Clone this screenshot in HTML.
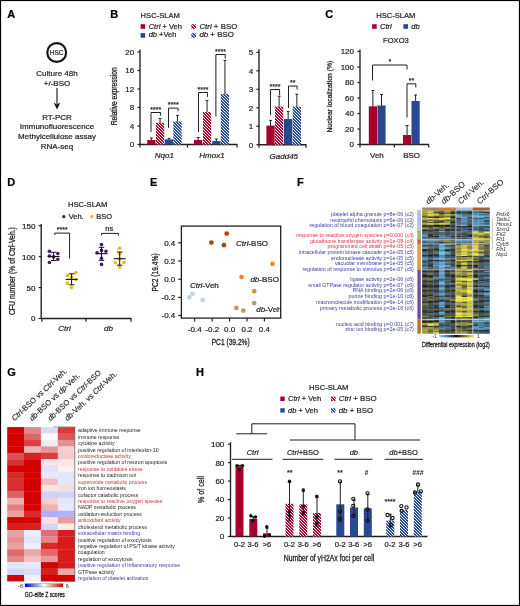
<!DOCTYPE html>
<html><head><meta charset="utf-8"><style>
html,body{margin:0;padding:0;background:#fff;}
svg{display:block; will-change:transform;}
text{font-family:"Liberation Sans", sans-serif;}
</style></head><body>
<svg width="520" height="606" viewBox="0 0 520 606">
<rect x="0" y="0" width="520" height="606" fill="#fff"/>
<defs>
<filter id="blurF" x="-5%" y="-5%" width="110%" height="110%"><feGaussianBlur stdDeviation="0.35"/></filter>
<pattern id="hr" patternUnits="userSpaceOnUse" x="0" y="0" width="3" height="3"><rect x="0" y="0" width="1" height="1" fill="#a8002c"/><rect x="1" y="0" width="1" height="1" fill="#b01a44"/><rect x="2" y="0" width="1" height="1" fill="#f8e8ec"/><rect x="0" y="1" width="1" height="1" fill="#f8e8ec"/><rect x="1" y="1" width="1" height="1" fill="#a8002c"/><rect x="2" y="1" width="1" height="1" fill="#b01a44"/><rect x="0" y="2" width="1" height="1" fill="#b01a44"/><rect x="1" y="2" width="1" height="1" fill="#f8e8ec"/><rect x="2" y="2" width="1" height="1" fill="#a8002c"/></pattern><pattern id="hb" patternUnits="userSpaceOnUse" x="0" y="0" width="3" height="3"><rect x="0" y="0" width="1" height="1" fill="#284890"/><rect x="1" y="0" width="1" height="1" fill="#34529a"/><rect x="2" y="0" width="1" height="1" fill="#e8ecf6"/><rect x="0" y="1" width="1" height="1" fill="#e8ecf6"/><rect x="1" y="1" width="1" height="1" fill="#284890"/><rect x="2" y="1" width="1" height="1" fill="#34529a"/><rect x="0" y="2" width="1" height="1" fill="#34529a"/><rect x="1" y="2" width="1" height="1" fill="#e8ecf6"/><rect x="2" y="2" width="1" height="1" fill="#284890"/></pattern><pattern id="hrl" patternUnits="userSpaceOnUse" x="0" y="0" width="3" height="3"><rect x="0" y="0" width="1" height="1" fill="#a8002c"/><rect x="1" y="0" width="1" height="1" fill="#b01a44"/><rect x="2" y="0" width="1" height="1" fill="#f8e8ec"/><rect x="0" y="1" width="1" height="1" fill="#f8e8ec"/><rect x="1" y="1" width="1" height="1" fill="#a8002c"/><rect x="2" y="1" width="1" height="1" fill="#b01a44"/><rect x="0" y="2" width="1" height="1" fill="#b01a44"/><rect x="1" y="2" width="1" height="1" fill="#f8e8ec"/><rect x="2" y="2" width="1" height="1" fill="#a8002c"/></pattern><pattern id="hbl" patternUnits="userSpaceOnUse" x="0" y="0" width="3" height="3"><rect x="0" y="0" width="1" height="1" fill="#284890"/><rect x="1" y="0" width="1" height="1" fill="#34529a"/><rect x="2" y="0" width="1" height="1" fill="#e8ecf6"/><rect x="0" y="1" width="1" height="1" fill="#e8ecf6"/><rect x="1" y="1" width="1" height="1" fill="#284890"/><rect x="2" y="1" width="1" height="1" fill="#34529a"/><rect x="0" y="2" width="1" height="1" fill="#34529a"/><rect x="1" y="2" width="1" height="1" fill="#e8ecf6"/><rect x="2" y="2" width="1" height="1" fill="#284890"/></pattern>
</defs>
<text x="7.3" y="18" font-size="11" text-anchor="start" fill="#000" stroke="#000" stroke-width="0.22" font-weight="bold" font-style="normal" >A</text>
<text x="110.3" y="18" font-size="11" text-anchor="start" fill="#000" stroke="#000" stroke-width="0.22" font-weight="bold" font-style="normal" >B</text>
<text x="325.3" y="18" font-size="11" text-anchor="start" fill="#000" stroke="#000" stroke-width="0.22" font-weight="bold" font-style="normal" >C</text>
<text x="7.3" y="186.3" font-size="11" text-anchor="start" fill="#000" stroke="#000" stroke-width="0.22" font-weight="bold" font-style="normal" >D</text>
<text x="150" y="186.3" font-size="11" text-anchor="start" fill="#000" stroke="#000" stroke-width="0.22" font-weight="bold" font-style="normal" >E</text>
<text x="297" y="186.3" font-size="11" text-anchor="start" fill="#000" stroke="#000" stroke-width="0.22" font-weight="bold" font-style="normal" >F</text>
<text x="7.3" y="375.8" font-size="11" text-anchor="start" fill="#000" stroke="#000" stroke-width="0.22" font-weight="bold" font-style="normal" >G</text>
<text x="196" y="375.5" font-size="11" text-anchor="start" fill="#000" stroke="#000" stroke-width="0.22" font-weight="bold" font-style="normal" >H</text>
<circle cx="56.7" cy="52.5" r="9.4" fill="none" stroke="#111" stroke-width="2.1"/>
<text x="56.6" y="55.0" font-size="6.6" text-anchor="middle" fill="#231f20" stroke="#231f20" stroke-width="0.2" font-weight="normal" font-style="normal" >HSC</text>
<text x="57" y="76.2" font-size="8" text-anchor="middle" fill="#231f20" stroke="#231f20" stroke-width="0.22" font-weight="normal" font-style="normal" >Culture 48h</text>
<text x="57" y="85.6" font-size="8" text-anchor="middle" fill="#231f20" stroke="#231f20" stroke-width="0.22" font-weight="normal" font-style="normal" >+/-BSO</text>
<line x1="57" y1="88" x2="57" y2="104" stroke="#111" stroke-width="1.1"/>
<path d="M53.6,102.5 L57,109.5 L60.4,102.5 L57,104.5 Z" fill="#111"/>
<text x="57" y="119.6" font-size="8" text-anchor="middle" fill="#231f20" stroke="#231f20" stroke-width="0.22" font-weight="normal" font-style="normal" >RT-PCR</text>
<text x="57" y="129.45" font-size="8" text-anchor="middle" fill="#231f20" stroke="#231f20" stroke-width="0.22" font-weight="normal" font-style="normal" >Immunofluorescence</text>
<text x="57" y="139.29999999999998" font-size="8" text-anchor="middle" fill="#231f20" stroke="#231f20" stroke-width="0.22" font-weight="normal" font-style="normal" >Methylcellulose assay</text>
<text x="57" y="149.14999999999998" font-size="8" text-anchor="middle" fill="#231f20" stroke="#231f20" stroke-width="0.22" font-weight="normal" font-style="normal" >RNA-seq</text>
<text x="140.6" y="17.9" font-size="7.6" text-anchor="start" fill="#231f20" stroke="#231f20" stroke-width="0.22" font-weight="normal" font-style="normal" >HSC-SLAM</text>
<rect x="140.6" y="24.2" width="4.6" height="4.6" fill="#a8002c"/>
<text x="148.7" y="28.9" font-size="7.5" text-anchor="start" fill="#231f20" stroke="#231f20" stroke-width="0.22" font-weight="normal" font-style="normal" ><tspan font-style="italic">Ctrl</tspan> + Veh</text>
<rect x="140.6" y="33.1" width="4.6" height="4.6" fill="#284890"/>
<text x="148.7" y="37.3" font-size="7.5" text-anchor="start" fill="#231f20" stroke="#231f20" stroke-width="0.22" font-weight="normal" font-style="normal" ><tspan font-style="italic">db</tspan> +Veh</text>
<rect x="191.3" y="24.2" width="4.8" height="4.7" fill="url(#hrl)"/>
<text x="199.4" y="28.9" font-size="7.9" text-anchor="start" fill="#231f20" stroke="#231f20" stroke-width="0.22" font-weight="normal" font-style="normal" ><tspan font-style="italic">Ctrl</tspan> + BSO</text>
<rect x="191.3" y="33.1" width="4.8" height="4.7" fill="url(#hbl)"/>
<text x="199.4" y="37.3" font-size="7.9" text-anchor="start" fill="#231f20" stroke="#231f20" stroke-width="0.22" font-weight="normal" font-style="normal" ><tspan font-style="italic">db</tspan> + BSO</text>
<line x1="140" y1="49.5" x2="140" y2="145.0" stroke="#231f20" stroke-width="1.35"/>
<line x1="137.4" y1="144.5" x2="140" y2="144.5" stroke="#231f20" stroke-width="1.2"/>
<text x="134.2" y="147.4" font-size="8" text-anchor="end" fill="#231f20" stroke="#231f20" stroke-width="0.22" font-weight="normal" font-style="normal" >0</text>
<line x1="137.4" y1="126.0" x2="140" y2="126.0" stroke="#231f20" stroke-width="1.2"/>
<text x="134.2" y="128.9" font-size="8" text-anchor="end" fill="#231f20" stroke="#231f20" stroke-width="0.22" font-weight="normal" font-style="normal" >4</text>
<line x1="137.4" y1="107.5" x2="140" y2="107.5" stroke="#231f20" stroke-width="1.2"/>
<text x="134.2" y="110.4" font-size="8" text-anchor="end" fill="#231f20" stroke="#231f20" stroke-width="0.22" font-weight="normal" font-style="normal" >8</text>
<line x1="137.4" y1="89.0" x2="140" y2="89.0" stroke="#231f20" stroke-width="1.2"/>
<text x="134.2" y="91.9" font-size="8" text-anchor="end" fill="#231f20" stroke="#231f20" stroke-width="0.22" font-weight="normal" font-style="normal" >12</text>
<line x1="137.4" y1="70.5" x2="140" y2="70.5" stroke="#231f20" stroke-width="1.2"/>
<text x="134.2" y="73.4" font-size="8" text-anchor="end" fill="#231f20" stroke="#231f20" stroke-width="0.22" font-weight="normal" font-style="normal" >16</text>
<line x1="137.4" y1="52.0" x2="140" y2="52.0" stroke="#231f20" stroke-width="1.2"/>
<text x="134.2" y="54.9" font-size="8" text-anchor="end" fill="#231f20" stroke="#231f20" stroke-width="0.22" font-weight="normal" font-style="normal" >20</text>
<line x1="140" y1="144.5" x2="237.5" y2="144.5" stroke="#231f20" stroke-width="1.35"/>
<line x1="140" y1="144.5" x2="140" y2="147.6" stroke="#231f20" stroke-width="1.2"/>
<line x1="187.5" y1="144.5" x2="187.5" y2="147.6" stroke="#231f20" stroke-width="1.2"/>
<line x1="237" y1="144.5" x2="237" y2="147.6" stroke="#231f20" stroke-width="1.2"/>
<line x1="151.35" y1="141.0" x2="151.35" y2="138.0" stroke="#231f20" stroke-width="1"/>
<line x1="149.95" y1="138.0" x2="152.75" y2="138.0" stroke="#231f20" stroke-width="1"/>
<rect x="147.2" y="140.0" width="8.3" height="4.5" fill="#a8002c"/>
<line x1="160.05" y1="123.8" x2="160.05" y2="118.5" stroke="#231f20" stroke-width="1"/>
<line x1="158.65" y1="118.5" x2="161.45000000000002" y2="118.5" stroke="#231f20" stroke-width="1"/>
<rect x="155.9" y="122.8" width="8.3" height="21.700000000000003" fill="url(#hr)"/>
<line x1="168.95000000000002" y1="140.4" x2="168.95000000000002" y2="138.3" stroke="#231f20" stroke-width="1"/>
<line x1="167.55" y1="138.3" x2="170.35000000000002" y2="138.3" stroke="#231f20" stroke-width="1"/>
<rect x="164.8" y="139.4" width="8.3" height="5.099999999999994" fill="#284890"/>
<line x1="177.45000000000002" y1="122.5" x2="177.45000000000002" y2="115.4" stroke="#231f20" stroke-width="1"/>
<line x1="176.05" y1="115.4" x2="178.85000000000002" y2="115.4" stroke="#231f20" stroke-width="1"/>
<rect x="173.3" y="121.5" width="8.3" height="23.0" fill="url(#hb)"/>
<line x1="198.15" y1="141.0" x2="198.15" y2="137.5" stroke="#231f20" stroke-width="1"/>
<line x1="196.75" y1="137.5" x2="199.55" y2="137.5" stroke="#231f20" stroke-width="1"/>
<rect x="194.0" y="140.0" width="8.3" height="4.5" fill="#a8002c"/>
<line x1="207.05" y1="113.0" x2="207.05" y2="100.4" stroke="#231f20" stroke-width="1"/>
<line x1="205.65" y1="100.4" x2="208.45000000000002" y2="100.4" stroke="#231f20" stroke-width="1"/>
<rect x="202.9" y="112.0" width="8.3" height="32.5" fill="url(#hr)"/>
<line x1="216.35" y1="142.0" x2="216.35" y2="139.0" stroke="#231f20" stroke-width="1"/>
<line x1="214.95" y1="139.0" x2="217.75" y2="139.0" stroke="#231f20" stroke-width="1"/>
<rect x="212.2" y="141.0" width="8.3" height="3.5" fill="#284890"/>
<line x1="224.95000000000002" y1="95.0" x2="224.95000000000002" y2="60.4" stroke="#231f20" stroke-width="1"/>
<line x1="223.55" y1="60.4" x2="226.35000000000002" y2="60.4" stroke="#231f20" stroke-width="1"/>
<rect x="220.8" y="94.0" width="8.3" height="50.5" fill="url(#hb)"/>
<polyline points="151,131.9 151,112.5 160.6,112.5 160.6,115.6" fill="none" stroke="#231f20" stroke-width="1"/>
<text x="155.8" y="111.6" font-size="7" text-anchor="middle" fill="#231f20" stroke="#231f20" stroke-width="0.22" font-weight="normal" font-style="normal" >****</text>
<polyline points="168.5,127.8 168.5,108.1 178.1,108.1 178.1,111.3" fill="none" stroke="#231f20" stroke-width="1"/>
<text x="173.3" y="107.3" font-size="7" text-anchor="middle" fill="#231f20" stroke="#231f20" stroke-width="0.22" font-weight="normal" font-style="normal" >****</text>
<polyline points="198.5,132.0 198.5,92.5 207.4,92.5 207.4,96.9" fill="none" stroke="#231f20" stroke-width="1"/>
<text x="202.95" y="91.8" font-size="7" text-anchor="middle" fill="#231f20" stroke="#231f20" stroke-width="0.22" font-weight="normal" font-style="normal" >****</text>
<polyline points="215.9,116.3 215.9,54.5 225.2,54.5 225.2,58.5" fill="none" stroke="#231f20" stroke-width="1"/>
<text x="220.55" y="53.9" font-size="7" text-anchor="middle" fill="#231f20" stroke="#231f20" stroke-width="0.22" font-weight="normal" font-style="normal" >****</text>
<text x="164.4" y="158.3" font-size="8" text-anchor="middle" fill="#231f20" stroke="#231f20" stroke-width="0.22" font-weight="normal" font-style="italic" >Nqo1</text>
<text x="212.0" y="158.3" font-size="8" text-anchor="middle" fill="#231f20" stroke="#231f20" stroke-width="0.22" font-weight="normal" font-style="italic" >Hmox1</text>
<text x="0" y="0" font-size="8.2" fill="#231f20" stroke="#231f20" stroke-width="0.3" text-anchor="middle" transform="translate(116.9,96.3) rotate(-90)" textLength="58" lengthAdjust="spacingAndGlyphs">Relative expression</text>
<line x1="259" y1="49.3" x2="259" y2="145.2" stroke="#231f20" stroke-width="1.35"/>
<line x1="256.4" y1="144.7" x2="259" y2="144.7" stroke="#231f20" stroke-width="1.2"/>
<text x="253.2" y="147.6" font-size="8" text-anchor="end" fill="#231f20" stroke="#231f20" stroke-width="0.22" font-weight="normal" font-style="normal" >0</text>
<line x1="256.4" y1="126.24" x2="259" y2="126.24" stroke="#231f20" stroke-width="1.2"/>
<text x="253.2" y="129.14" font-size="8" text-anchor="end" fill="#231f20" stroke="#231f20" stroke-width="0.22" font-weight="normal" font-style="normal" >1</text>
<line x1="256.4" y1="107.78" x2="259" y2="107.78" stroke="#231f20" stroke-width="1.2"/>
<text x="253.2" y="110.68" font-size="8" text-anchor="end" fill="#231f20" stroke="#231f20" stroke-width="0.22" font-weight="normal" font-style="normal" >2</text>
<line x1="256.4" y1="89.32" x2="259" y2="89.32" stroke="#231f20" stroke-width="1.2"/>
<text x="253.2" y="92.22" font-size="8" text-anchor="end" fill="#231f20" stroke="#231f20" stroke-width="0.22" font-weight="normal" font-style="normal" >3</text>
<line x1="256.4" y1="70.86" x2="259" y2="70.86" stroke="#231f20" stroke-width="1.2"/>
<text x="253.2" y="73.76" font-size="8" text-anchor="end" fill="#231f20" stroke="#231f20" stroke-width="0.22" font-weight="normal" font-style="normal" >4</text>
<line x1="256.4" y1="52.400000000000006" x2="259" y2="52.400000000000006" stroke="#231f20" stroke-width="1.2"/>
<text x="253.2" y="55.300000000000004" font-size="8" text-anchor="end" fill="#231f20" stroke="#231f20" stroke-width="0.22" font-weight="normal" font-style="normal" >5</text>
<line x1="259" y1="144.7" x2="306.5" y2="144.7" stroke="#231f20" stroke-width="1.35"/>
<line x1="259" y1="144.7" x2="259" y2="147.8" stroke="#231f20" stroke-width="1.2"/>
<line x1="306" y1="144.7" x2="306" y2="147.8" stroke="#231f20" stroke-width="1.2"/>
<line x1="270.54999999999995" y1="126.6" x2="270.54999999999995" y2="120.4" stroke="#231f20" stroke-width="1"/>
<line x1="269.15" y1="120.4" x2="271.94999999999993" y2="120.4" stroke="#231f20" stroke-width="1"/>
<rect x="266.4" y="125.6" width="8.3" height="19.099999999999994" fill="#a8002c"/>
<line x1="279.15" y1="107.6" x2="279.15" y2="96.3" stroke="#231f20" stroke-width="1"/>
<line x1="277.75" y1="96.3" x2="280.54999999999995" y2="96.3" stroke="#231f20" stroke-width="1"/>
<rect x="275.0" y="106.6" width="8.3" height="38.099999999999994" fill="url(#hr)"/>
<line x1="288.15" y1="120.0" x2="288.15" y2="111.5" stroke="#231f20" stroke-width="1"/>
<line x1="286.75" y1="111.5" x2="289.54999999999995" y2="111.5" stroke="#231f20" stroke-width="1"/>
<rect x="284.0" y="119.0" width="8.3" height="25.69999999999999" fill="#284890"/>
<line x1="296.84999999999997" y1="107.6" x2="296.84999999999997" y2="94.2" stroke="#231f20" stroke-width="1"/>
<line x1="295.45" y1="94.2" x2="298.24999999999994" y2="94.2" stroke="#231f20" stroke-width="1"/>
<rect x="292.7" y="106.6" width="8.3" height="38.099999999999994" fill="url(#hb)"/>
<polyline points="270.5,115.3 270.5,89.5 279.6,89.5 279.6,95.3" fill="none" stroke="#231f20" stroke-width="1"/>
<text x="275.05" y="88.6" font-size="7" text-anchor="middle" fill="#231f20" stroke="#231f20" stroke-width="0.22" font-weight="normal" font-style="normal" >****</text>
<polyline points="288.5,108.0 288.5,86.0 297.1,86.0 297.1,89.5" fill="none" stroke="#231f20" stroke-width="1"/>
<text x="292.8" y="85.4" font-size="7" text-anchor="middle" fill="#231f20" stroke="#231f20" stroke-width="0.22" font-weight="normal" font-style="normal" >**</text>
<text x="283.8" y="158.5" font-size="8" text-anchor="middle" fill="#231f20" stroke="#231f20" stroke-width="0.22" font-weight="normal" font-style="italic" >Gadd45</text>
<text x="376.2" y="17.9" font-size="7.6" text-anchor="start" fill="#231f20" stroke="#231f20" stroke-width="0.22" font-weight="normal" font-style="normal" >HSC-SLAM</text>
<rect x="372.1" y="24.2" width="4.6" height="4.6" fill="#a8002c"/>
<text x="380" y="28.9" font-size="7.6" text-anchor="start" fill="#231f20" stroke="#231f20" stroke-width="0.22" font-weight="normal" font-style="italic" >Ctrl</text>
<rect x="403.4" y="24.2" width="4.6" height="4.6" fill="#284890"/>
<text x="411.2" y="28.9" font-size="7.6" text-anchor="start" fill="#231f20" stroke="#231f20" stroke-width="0.22" font-weight="normal" font-style="italic" >db</text>
<text x="395.9" y="43.1" font-size="7.6" text-anchor="middle" fill="#231f20" stroke="#231f20" stroke-width="0.22" font-weight="normal" font-style="normal" >FOXO3</text>
<line x1="360" y1="49.5" x2="360" y2="145.0" stroke="#231f20" stroke-width="1.35"/>
<line x1="357.4" y1="144.5" x2="360" y2="144.5" stroke="#231f20" stroke-width="1.2"/>
<text x="354" y="147.4" font-size="8" text-anchor="end" fill="#231f20" stroke="#231f20" stroke-width="0.22" font-weight="normal" font-style="normal" >0</text>
<line x1="357.4" y1="129.0" x2="360" y2="129.0" stroke="#231f20" stroke-width="1.2"/>
<text x="354" y="131.9" font-size="8" text-anchor="end" fill="#231f20" stroke="#231f20" stroke-width="0.22" font-weight="normal" font-style="normal" >20</text>
<line x1="357.4" y1="113.5" x2="360" y2="113.5" stroke="#231f20" stroke-width="1.2"/>
<text x="354" y="116.4" font-size="8" text-anchor="end" fill="#231f20" stroke="#231f20" stroke-width="0.22" font-weight="normal" font-style="normal" >40</text>
<line x1="357.4" y1="98.0" x2="360" y2="98.0" stroke="#231f20" stroke-width="1.2"/>
<text x="354" y="100.9" font-size="8" text-anchor="end" fill="#231f20" stroke="#231f20" stroke-width="0.22" font-weight="normal" font-style="normal" >60</text>
<line x1="357.4" y1="82.5" x2="360" y2="82.5" stroke="#231f20" stroke-width="1.2"/>
<text x="354" y="85.4" font-size="8" text-anchor="end" fill="#231f20" stroke="#231f20" stroke-width="0.22" font-weight="normal" font-style="normal" >80</text>
<line x1="357.4" y1="67.0" x2="360" y2="67.0" stroke="#231f20" stroke-width="1.2"/>
<text x="354" y="69.9" font-size="8" text-anchor="end" fill="#231f20" stroke="#231f20" stroke-width="0.22" font-weight="normal" font-style="normal" >100</text>
<line x1="357.4" y1="51.5" x2="360" y2="51.5" stroke="#231f20" stroke-width="1.2"/>
<text x="354" y="54.4" font-size="8" text-anchor="end" fill="#231f20" stroke="#231f20" stroke-width="0.22" font-weight="normal" font-style="normal" >120</text>
<line x1="360" y1="144.5" x2="429" y2="144.5" stroke="#231f20" stroke-width="1.35"/>
<line x1="360" y1="144.5" x2="360" y2="147.6" stroke="#231f20" stroke-width="1.2"/>
<line x1="394.3" y1="144.5" x2="394.3" y2="147.6" stroke="#231f20" stroke-width="1.2"/>
<line x1="428.7" y1="144.5" x2="428.7" y2="147.6" stroke="#231f20" stroke-width="1.2"/>
<line x1="372.90000000000003" y1="107.3" x2="372.90000000000003" y2="90.5" stroke="#231f20" stroke-width="1"/>
<line x1="371.50000000000006" y1="90.5" x2="374.3" y2="90.5" stroke="#231f20" stroke-width="1"/>
<rect x="368.8" y="106.3" width="8.2" height="38.2" fill="#a8002c"/>
<line x1="381.5" y1="106.5" x2="381.5" y2="94.5" stroke="#231f20" stroke-width="1"/>
<line x1="380.1" y1="94.5" x2="382.9" y2="94.5" stroke="#231f20" stroke-width="1"/>
<rect x="377.4" y="105.5" width="8.2" height="39.0" fill="#284890"/>
<line x1="407.1" y1="136.0" x2="407.1" y2="125.5" stroke="#231f20" stroke-width="1"/>
<line x1="405.70000000000005" y1="125.5" x2="408.5" y2="125.5" stroke="#231f20" stroke-width="1"/>
<rect x="403.0" y="135.0" width="8.2" height="9.5" fill="#a8002c"/>
<line x1="415.6" y1="102.0" x2="415.6" y2="95.0" stroke="#231f20" stroke-width="1"/>
<line x1="414.20000000000005" y1="95.0" x2="417.0" y2="95.0" stroke="#231f20" stroke-width="1"/>
<rect x="411.5" y="101.0" width="8.2" height="43.5" fill="#284890"/>
<polyline points="372.5,80.5 372.5,65.0 407.0,65.0 407.0,69.5" fill="none" stroke="#231f20" stroke-width="1"/>
<text x="389.75" y="64.4" font-size="7" text-anchor="middle" fill="#231f20" stroke="#231f20" stroke-width="0.22" font-weight="normal" font-style="normal" >*</text>
<polyline points="407.0,117.5 407.0,83.8 415.8,83.8 415.8,87.5" fill="none" stroke="#231f20" stroke-width="1"/>
<text x="411.4" y="83.2" font-size="7" text-anchor="middle" fill="#231f20" stroke="#231f20" stroke-width="0.22" font-weight="normal" font-style="normal" >**</text>
<text x="376.9" y="157.6" font-size="8" text-anchor="middle" fill="#231f20" stroke="#231f20" stroke-width="0.22" font-weight="normal" font-style="normal" >Veh</text>
<text x="411.6" y="157.6" font-size="8" text-anchor="middle" fill="#231f20" stroke="#231f20" stroke-width="0.22" font-weight="normal" font-style="normal" >BSO</text>
<text x="0" y="0" font-size="7.9" fill="#231f20" stroke="#231f20" stroke-width="0.3" text-anchor="middle" transform="translate(332.3,96.6) rotate(-90)" textLength="72" lengthAdjust="spacingAndGlyphs">Nuclear localization (%)</text>
<text x="68" y="207.2" font-size="7.6" text-anchor="start" fill="#231f20" stroke="#231f20" stroke-width="0.22" font-weight="normal" font-style="normal" >HSC-SLAM</text>
<circle cx="63.8" cy="216.6" r="1.7" fill="#4a1a6a" stroke="none" stroke-width="0"/>
<text x="68.7" y="218.9" font-size="7.5" text-anchor="start" fill="#231f20" stroke="#231f20" stroke-width="0.22" font-weight="normal" font-style="normal" >Veh.</text>
<circle cx="91.8" cy="216.6" r="1.7" fill="#f0b800" stroke="none" stroke-width="0"/>
<text x="96.2" y="218.9" font-size="7.5" text-anchor="start" fill="#231f20" stroke="#231f20" stroke-width="0.22" font-weight="normal" font-style="normal" >BSO</text>
<line x1="41.2" y1="224" x2="41.2" y2="319.0" stroke="#231f20" stroke-width="1.35"/>
<line x1="38.6" y1="318.5" x2="41.2" y2="318.5" stroke="#231f20" stroke-width="1.2"/>
<text x="35.4" y="321.4" font-size="8" text-anchor="end" fill="#231f20" stroke="#231f20" stroke-width="0.22" font-weight="normal" font-style="normal" >0</text>
<line x1="38.6" y1="287.6" x2="41.2" y2="287.6" stroke="#231f20" stroke-width="1.2"/>
<text x="35.4" y="290.5" font-size="8" text-anchor="end" fill="#231f20" stroke="#231f20" stroke-width="0.22" font-weight="normal" font-style="normal" >50</text>
<line x1="38.6" y1="256.7" x2="41.2" y2="256.7" stroke="#231f20" stroke-width="1.2"/>
<text x="35.4" y="259.59999999999997" font-size="8" text-anchor="end" fill="#231f20" stroke="#231f20" stroke-width="0.22" font-weight="normal" font-style="normal" >100</text>
<line x1="38.6" y1="225.8" x2="41.2" y2="225.8" stroke="#231f20" stroke-width="1.2"/>
<text x="35.4" y="228.70000000000002" font-size="8" text-anchor="end" fill="#231f20" stroke="#231f20" stroke-width="0.22" font-weight="normal" font-style="normal" >150</text>
<line x1="41.2" y1="318.5" x2="131.5" y2="318.5" stroke="#231f20" stroke-width="1.35"/>
<line x1="41.8" y1="318.5" x2="41.8" y2="321.8" stroke="#231f20" stroke-width="1.2"/>
<line x1="85.9" y1="318.5" x2="85.9" y2="321.8" stroke="#231f20" stroke-width="1.2"/>
<line x1="131" y1="318.5" x2="131" y2="321.8" stroke="#231f20" stroke-width="1.2"/>
<text x="64.5" y="331.3" font-size="8" text-anchor="middle" fill="#231f20" stroke="#231f20" stroke-width="0.22" font-weight="normal" font-style="italic" >Ctrl</text>
<text x="108.4" y="331.3" font-size="8" text-anchor="middle" fill="#231f20" stroke="#231f20" stroke-width="0.22" font-weight="normal" font-style="italic" >db</text>
<text x="0" y="0" font-size="8.2" fill="#231f20" stroke="#231f20" stroke-width="0.3" text-anchor="middle" transform="translate(15.2,271.1) rotate(-90)" textLength="88" lengthAdjust="spacingAndGlyphs">CFU number (% of Ctrl-Veh.)</text>
<circle cx="49.4" cy="251.3" r="1.8" fill="#4a1a6a" stroke="none" stroke-width="0"/>
<circle cx="57.8" cy="253.5" r="1.8" fill="#4a1a6a" stroke="none" stroke-width="0"/>
<circle cx="49.4" cy="256.0" r="1.8" fill="#4a1a6a" stroke="none" stroke-width="0"/>
<circle cx="53.6" cy="256.9" r="1.8" fill="#4a1a6a" stroke="none" stroke-width="0"/>
<circle cx="57.8" cy="259.4" r="1.8" fill="#4a1a6a" stroke="none" stroke-width="0"/>
<circle cx="49.4" cy="262.5" r="1.8" fill="#4a1a6a" stroke="none" stroke-width="0"/>
<line x1="47.6" y1="256.5" x2="59.6" y2="256.5" stroke="#111" stroke-width="1.1"/>
<line x1="53.6" y1="252.3" x2="53.6" y2="260.6" stroke="#111" stroke-width="1"/>
<line x1="50.85" y1="252.3" x2="56.35" y2="252.3" stroke="#111" stroke-width="1"/>
<line x1="50.85" y1="260.6" x2="56.35" y2="260.6" stroke="#111" stroke-width="1"/>
<circle cx="75.9" cy="272.8" r="1.8" fill="#f0b800" stroke="none" stroke-width="0"/>
<circle cx="67.3" cy="275.6" r="1.8" fill="#f0b800" stroke="none" stroke-width="0"/>
<circle cx="71.6" cy="277.3" r="1.8" fill="#f0b800" stroke="none" stroke-width="0"/>
<circle cx="75.9" cy="279.6" r="1.8" fill="#f0b800" stroke="none" stroke-width="0"/>
<circle cx="67.3" cy="283.1" r="1.8" fill="#f0b800" stroke="none" stroke-width="0"/>
<circle cx="71.6" cy="287.5" r="1.8" fill="#f0b800" stroke="none" stroke-width="0"/>
<line x1="65.6" y1="279.4" x2="77.6" y2="279.4" stroke="#111" stroke-width="1.1"/>
<line x1="71.6" y1="273.8" x2="71.6" y2="284.8" stroke="#111" stroke-width="1"/>
<line x1="68.85" y1="273.8" x2="74.35" y2="273.8" stroke="#111" stroke-width="1"/>
<line x1="68.85" y1="284.8" x2="74.35" y2="284.8" stroke="#111" stroke-width="1"/>
<circle cx="101.5" cy="244.6" r="1.8" fill="#4a1a6a" stroke="none" stroke-width="0"/>
<circle cx="101.5" cy="250.4" r="1.8" fill="#4a1a6a" stroke="none" stroke-width="0"/>
<circle cx="97.1" cy="252.8" r="1.8" fill="#4a1a6a" stroke="none" stroke-width="0"/>
<circle cx="106.0" cy="251.2" r="1.8" fill="#4a1a6a" stroke="none" stroke-width="0"/>
<circle cx="101.5" cy="258.2" r="1.8" fill="#4a1a6a" stroke="none" stroke-width="0"/>
<circle cx="101.5" cy="264.4" r="1.8" fill="#4a1a6a" stroke="none" stroke-width="0"/>
<line x1="95.5" y1="253.7" x2="107.5" y2="253.7" stroke="#111" stroke-width="1.1"/>
<line x1="101.5" y1="247.3" x2="101.5" y2="260.3" stroke="#111" stroke-width="1"/>
<line x1="98.75" y1="247.3" x2="104.25" y2="247.3" stroke="#111" stroke-width="1"/>
<line x1="98.75" y1="260.3" x2="104.25" y2="260.3" stroke="#111" stroke-width="1"/>
<circle cx="119.7" cy="248.3" r="1.8" fill="#f0b800" stroke="none" stroke-width="0"/>
<circle cx="119.7" cy="253.7" r="1.8" fill="#f0b800" stroke="none" stroke-width="0"/>
<circle cx="119.7" cy="258.7" r="1.8" fill="#f0b800" stroke="none" stroke-width="0"/>
<circle cx="115.3" cy="262.7" r="1.8" fill="#f0b800" stroke="none" stroke-width="0"/>
<circle cx="124.0" cy="262.4" r="1.8" fill="#f0b800" stroke="none" stroke-width="0"/>
<circle cx="119.7" cy="267.1" r="1.8" fill="#f0b800" stroke="none" stroke-width="0"/>
<line x1="113.7" y1="258.7" x2="125.7" y2="258.7" stroke="#111" stroke-width="1.1"/>
<line x1="119.7" y1="252.0" x2="119.7" y2="265.2" stroke="#111" stroke-width="1"/>
<line x1="116.95" y1="252.0" x2="122.45" y2="252.0" stroke="#111" stroke-width="1"/>
<line x1="116.95" y1="265.2" x2="122.45" y2="265.2" stroke="#111" stroke-width="1"/>
<polyline points="54.8,235.0 54.8,233.1 69.6,233.1 69.6,258.5" fill="none" stroke="#231f20" stroke-width="1"/>
<text x="62.199999999999996" y="232.4" font-size="7" text-anchor="middle" fill="#231f20" stroke="#231f20" stroke-width="0.22" font-weight="normal" font-style="normal" >****</text>
<polyline points="101.5,235.5 101.5,233.4 118.4,233.4 118.4,235.5" fill="none" stroke="#231f20" stroke-width="1"/>
<text x="109.95" y="0" font-size="7" text-anchor="middle" fill="#231f20" stroke="#231f20" stroke-width="0.22" font-weight="normal" font-style="normal" ></text>
<text x="109.2" y="230.7" font-size="7.5" text-anchor="middle" fill="#231f20" stroke="#231f20" stroke-width="0.22" font-weight="normal" font-style="normal" >ns</text>
<rect x="181.4" y="226.1" width="99.3" height="92.0" fill="none" stroke="#231f20" stroke-width="1.3"/>
<line x1="178.2" y1="242.8" x2="181.4" y2="242.8" stroke="#231f20" stroke-width="1.2"/>
<text x="175.3" y="245.70000000000002" font-size="8" text-anchor="end" fill="#231f20" stroke="#231f20" stroke-width="0.22" font-weight="normal" font-style="normal" >0.4</text>
<line x1="178.2" y1="261.0" x2="181.4" y2="261.0" stroke="#231f20" stroke-width="1.2"/>
<text x="175.3" y="263.9" font-size="8" text-anchor="end" fill="#231f20" stroke="#231f20" stroke-width="0.22" font-weight="normal" font-style="normal" >0.2</text>
<line x1="178.2" y1="279.2" x2="181.4" y2="279.2" stroke="#231f20" stroke-width="1.2"/>
<text x="175.3" y="282.09999999999997" font-size="8" text-anchor="end" fill="#231f20" stroke="#231f20" stroke-width="0.22" font-weight="normal" font-style="normal" >0.0</text>
<line x1="178.2" y1="297.4" x2="181.4" y2="297.4" stroke="#231f20" stroke-width="1.2"/>
<text x="175.3" y="300.29999999999995" font-size="8" text-anchor="end" fill="#231f20" stroke="#231f20" stroke-width="0.22" font-weight="normal" font-style="normal" >-0.2</text>
<line x1="178.2" y1="315.5" x2="181.4" y2="315.5" stroke="#231f20" stroke-width="1.2"/>
<text x="175.3" y="318.4" font-size="8" text-anchor="end" fill="#231f20" stroke="#231f20" stroke-width="0.22" font-weight="normal" font-style="normal" >-0.4</text>
<line x1="194.7" y1="318.1" x2="194.7" y2="321.6" stroke="#231f20" stroke-width="1.2"/>
<text x="194.7" y="331.9" font-size="8" text-anchor="middle" fill="#231f20" stroke="#231f20" stroke-width="0.22" font-weight="normal" font-style="normal" >-0.4</text>
<line x1="212.2" y1="318.1" x2="212.2" y2="321.6" stroke="#231f20" stroke-width="1.2"/>
<text x="212.2" y="331.9" font-size="8" text-anchor="middle" fill="#231f20" stroke="#231f20" stroke-width="0.22" font-weight="normal" font-style="normal" >-0.2</text>
<line x1="229.6" y1="318.1" x2="229.6" y2="321.6" stroke="#231f20" stroke-width="1.2"/>
<text x="229.6" y="331.9" font-size="8" text-anchor="middle" fill="#231f20" stroke="#231f20" stroke-width="0.22" font-weight="normal" font-style="normal" >0.0</text>
<line x1="247.0" y1="318.1" x2="247.0" y2="321.6" stroke="#231f20" stroke-width="1.2"/>
<text x="247.0" y="331.9" font-size="8" text-anchor="middle" fill="#231f20" stroke="#231f20" stroke-width="0.22" font-weight="normal" font-style="normal" >0.2</text>
<line x1="264.4" y1="318.1" x2="264.4" y2="321.6" stroke="#231f20" stroke-width="1.2"/>
<text x="264.4" y="331.9" font-size="8" text-anchor="middle" fill="#231f20" stroke="#231f20" stroke-width="0.22" font-weight="normal" font-style="normal" >0.4</text>
<circle cx="226.7" cy="233.6" r="2.35" fill="#a4480f" stroke="none" stroke-width="0"/>
<circle cx="211.4" cy="242.6" r="2.35" fill="#a4480f" stroke="none" stroke-width="0"/>
<circle cx="223.9" cy="245.2" r="2.35" fill="#a4480f" stroke="none" stroke-width="0"/>
<circle cx="272.5" cy="263.9" r="2.35" fill="#e58a35" stroke="none" stroke-width="0"/>
<circle cx="241.5" cy="277.0" r="2.35" fill="#e58a35" stroke="none" stroke-width="0"/>
<circle cx="254.2" cy="291.2" r="2.35" fill="#e58a35" stroke="none" stroke-width="0"/>
<circle cx="192.5" cy="293.8" r="2.35" fill="#bdd3eb" stroke="none" stroke-width="0"/>
<circle cx="189.3" cy="297.3" r="2.35" fill="#bdd3eb" stroke="none" stroke-width="0"/>
<circle cx="202.6" cy="300.0" r="2.35" fill="#bdd3eb" stroke="none" stroke-width="0"/>
<circle cx="236.4" cy="307.9" r="2.35" fill="#b8996a" stroke="none" stroke-width="0"/>
<circle cx="243.3" cy="310.6" r="2.35" fill="#b8996a" stroke="none" stroke-width="0"/>
<circle cx="254.2" cy="303.1" r="2.35" fill="#b8996a" stroke="none" stroke-width="0"/>
<text x="236" y="246.2" font-size="8" text-anchor="start" fill="#231f20" stroke="#231f20" stroke-width="0.22" font-weight="normal" font-style="normal" ><tspan font-style="italic">Ctrl</tspan>-BSO</text>
<text x="250.4" y="282.3" font-size="8" text-anchor="start" fill="#231f20" stroke="#231f20" stroke-width="0.22" font-weight="normal" font-style="normal" ><tspan font-style="italic">db</tspan>-BSO</text>
<text x="189.9" y="288.3" font-size="8" text-anchor="start" fill="#231f20" stroke="#231f20" stroke-width="0.22" font-weight="normal" font-style="normal" ><tspan font-style="italic">Ctrl</tspan>-Veh</text>
<text x="256.2" y="311.9" font-size="8" text-anchor="start" fill="#231f20" stroke="#231f20" stroke-width="0.22" font-weight="normal" font-style="normal" ><tspan font-style="italic">db</tspan>-Veh</text>
<text x="0" y="0" font-size="8.8" fill="#231f20" stroke="#231f20" stroke-width="0.3" text-anchor="middle" transform="translate(157.8,272.4) rotate(-90)" textLength="38" lengthAdjust="spacingAndGlyphs">PC2 (19.4%)</text>
<text x="230.7" y="344.7" font-size="8.8" fill="#231f20" stroke="#231f20" stroke-width="0.3" text-anchor="middle"  textLength="38" lengthAdjust="spacingAndGlyphs">PC1 (39.2%)</text>
<text x="413.9" y="215.8" font-size="5.33" text-anchor="end" fill="#4040a8" stroke="#4040a8" stroke-width="0" font-weight="normal" font-style="normal" >platelet alpha granule p=8e-06 (c2)</text>
<text x="413.9" y="221.5" font-size="5.33" text-anchor="end" fill="#4040a8" stroke="#4040a8" stroke-width="0" font-weight="normal" font-style="normal" >neutrophil chemotaxis p=5e-06 (c2)</text>
<text x="413.9" y="227.1" font-size="5.33" text-anchor="end" fill="#4040a8" stroke="#4040a8" stroke-width="0" font-weight="normal" font-style="normal" >regulation of blood coagulation p=3e-07 (c2)</text>
<text x="413.9" y="237.0" font-size="5.33" text-anchor="end" fill="#d83a46" stroke="#d83a46" stroke-width="0" font-weight="normal" font-style="normal" >response to reactive oxygen species p=0.000 (c3)</text>
<text x="413.9" y="242.6" font-size="5.33" text-anchor="end" fill="#d83a46" stroke="#d83a46" stroke-width="0" font-weight="normal" font-style="normal" >glutathione transferase activity p=1e-08 (c4)</text>
<text x="413.9" y="248.3" font-size="5.33" text-anchor="end" fill="#d83a46" stroke="#d83a46" stroke-width="0" font-weight="normal" font-style="normal" >programmed cell death p=4e-05 (c5)</text>
<text x="413.9" y="253.9" font-size="5.33" text-anchor="end" fill="#4040a8" stroke="#4040a8" stroke-width="0" font-weight="normal" font-style="normal" >intracellular protein kinase cascade p=2e-05 (c5)</text>
<text x="413.9" y="259.6" font-size="5.33" text-anchor="end" fill="#4040a8" stroke="#4040a8" stroke-width="0" font-weight="normal" font-style="normal" >endonuclease activity p=1e-05 (c5)</text>
<text x="413.9" y="265.1" font-size="5.33" text-anchor="end" fill="#4040a8" stroke="#4040a8" stroke-width="0" font-weight="normal" font-style="normal" >vacuolar membrane p=1e-05 (c5)</text>
<text x="413.9" y="270.8" font-size="5.33" text-anchor="end" fill="#4040a8" stroke="#4040a8" stroke-width="0" font-weight="normal" font-style="normal" >regulation of response to stimulus p=6e-07 (c5)</text>
<text x="413.9" y="281.1" font-size="5.33" text-anchor="end" fill="#4040a8" stroke="#4040a8" stroke-width="0" font-weight="normal" font-style="normal" >ligase activity p=2e-06 (c6)</text>
<text x="413.9" y="286.8" font-size="5.33" text-anchor="end" fill="#4040a8" stroke="#4040a8" stroke-width="0" font-weight="normal" font-style="normal" >small GTPase regulator activity p=5e-07 (c6)</text>
<text x="413.9" y="292.4" font-size="5.33" text-anchor="end" fill="#4040a8" stroke="#4040a8" stroke-width="0" font-weight="normal" font-style="normal" >RNA binding p=2e-06 (c6)</text>
<text x="413.9" y="298.1" font-size="5.33" text-anchor="end" fill="#4040a8" stroke="#4040a8" stroke-width="0" font-weight="normal" font-style="normal" >purine binding p=1e-10 (c6)</text>
<text x="413.9" y="303.9" font-size="5.33" text-anchor="end" fill="#4040a8" stroke="#4040a8" stroke-width="0" font-weight="normal" font-style="normal" >macromolecule modification p=9e-14 (c6)</text>
<text x="413.9" y="309.5" font-size="5.33" text-anchor="end" fill="#4040a8" stroke="#4040a8" stroke-width="0" font-weight="normal" font-style="normal" >primary metabolic process p=2e-16 (c6)</text>
<text x="413.9" y="325.6" font-size="5.33" text-anchor="end" fill="#4040a8" stroke="#4040a8" stroke-width="0" font-weight="normal" font-style="normal" >nucleic acid binding p=0.001 (c7)</text>
<text x="413.9" y="331.2" font-size="5.33" text-anchor="end" fill="#4040a8" stroke="#4040a8" stroke-width="0" font-weight="normal" font-style="normal" >zinc ion binding p=2e-05 (c7)</text>
<g filter="url(#blurF)">
<rect x="422.10" y="210.40" width="5.68" height="1.35" fill="#7c7a28"/>
<rect x="427.73" y="210.40" width="5.68" height="1.35" fill="#94902a"/>
<rect x="433.37" y="210.40" width="5.68" height="1.35" fill="#656426"/>
<rect x="439.00" y="210.40" width="5.68" height="1.35" fill="#414323"/>
<rect x="444.63" y="210.40" width="5.68" height="1.35" fill="#7e7c28"/>
<rect x="450.27" y="210.40" width="5.68" height="1.35" fill="#404123"/>
<rect x="455.90" y="210.40" width="5.68" height="1.35" fill="#2c495a"/>
<rect x="461.53" y="210.40" width="5.68" height="1.35" fill="#2b4757"/>
<rect x="467.17" y="210.40" width="5.68" height="1.35" fill="#2b4757"/>
<rect x="472.80" y="210.40" width="5.68" height="1.35" fill="#3d718f"/>
<rect x="478.43" y="210.40" width="5.68" height="1.35" fill="#3c6f8d"/>
<rect x="484.07" y="210.40" width="5.68" height="1.35" fill="#4d98c4"/>
<rect x="422.10" y="211.70" width="5.68" height="1.35" fill="#b0aa2c"/>
<rect x="427.73" y="211.70" width="5.68" height="1.35" fill="#eae031"/>
<rect x="433.37" y="211.70" width="5.68" height="1.35" fill="#5e5d25"/>
<rect x="439.00" y="211.70" width="5.68" height="1.35" fill="#515224"/>
<rect x="444.63" y="211.70" width="5.68" height="1.35" fill="#95912a"/>
<rect x="450.27" y="211.70" width="5.68" height="1.35" fill="#323422"/>
<rect x="455.90" y="211.70" width="5.68" height="1.35" fill="#1f2b32"/>
<rect x="461.53" y="211.70" width="5.68" height="1.35" fill="#294352"/>
<rect x="467.17" y="211.70" width="5.68" height="1.35" fill="#1a2022"/>
<rect x="472.80" y="211.70" width="5.68" height="1.35" fill="#3a6b88"/>
<rect x="478.43" y="211.70" width="5.68" height="1.35" fill="#2b4858"/>
<rect x="484.07" y="211.70" width="5.68" height="1.35" fill="#243741"/>
<rect x="422.10" y="213.00" width="5.68" height="1.35" fill="#9d982b"/>
<rect x="427.73" y="213.00" width="5.68" height="1.35" fill="#a39e2b"/>
<rect x="433.37" y="213.00" width="5.68" height="1.35" fill="#928e2a"/>
<rect x="439.00" y="213.00" width="5.68" height="1.35" fill="#3c3e22"/>
<rect x="444.63" y="213.00" width="5.68" height="1.35" fill="#565625"/>
<rect x="450.27" y="213.00" width="5.68" height="1.35" fill="#22313a"/>
<rect x="455.90" y="213.00" width="5.68" height="1.35" fill="#386681"/>
<rect x="461.53" y="213.00" width="5.68" height="1.35" fill="#355f78"/>
<rect x="467.17" y="213.00" width="5.68" height="1.35" fill="#305468"/>
<rect x="472.80" y="213.00" width="5.68" height="1.35" fill="#4d99c5"/>
<rect x="478.43" y="213.00" width="5.68" height="1.35" fill="#51a0cf"/>
<rect x="484.07" y="213.00" width="5.68" height="1.35" fill="#4482a7"/>
<rect x="422.10" y="214.30" width="5.68" height="1.35" fill="#898529"/>
<rect x="427.73" y="214.30" width="5.68" height="1.35" fill="#f0e632"/>
<rect x="433.37" y="214.30" width="5.68" height="1.35" fill="#cac22e"/>
<rect x="439.00" y="214.30" width="5.68" height="1.35" fill="#6c6a26"/>
<rect x="444.63" y="214.30" width="5.68" height="1.35" fill="#d0c82f"/>
<rect x="450.27" y="214.30" width="5.68" height="1.35" fill="#8a8729"/>
<rect x="455.90" y="214.30" width="5.68" height="1.35" fill="#36627b"/>
<rect x="461.53" y="214.30" width="5.68" height="1.35" fill="#283f4d"/>
<rect x="467.17" y="214.30" width="5.68" height="1.35" fill="#1d2529"/>
<rect x="472.80" y="214.30" width="5.68" height="1.35" fill="#37657f"/>
<rect x="478.43" y="214.30" width="5.68" height="1.35" fill="#243742"/>
<rect x="484.07" y="214.30" width="5.68" height="1.35" fill="#253843"/>
<rect x="422.10" y="215.60" width="5.68" height="1.35" fill="#535324"/>
<rect x="427.73" y="215.60" width="5.68" height="1.35" fill="#827f28"/>
<rect x="433.37" y="215.60" width="5.68" height="1.35" fill="#626126"/>
<rect x="439.00" y="215.60" width="5.68" height="1.35" fill="#6c6a26"/>
<rect x="444.63" y="215.60" width="5.68" height="1.35" fill="#605f25"/>
<rect x="450.27" y="215.60" width="5.68" height="1.35" fill="#263c49"/>
<rect x="455.90" y="215.60" width="5.68" height="1.35" fill="#53a6d7"/>
<rect x="461.53" y="215.60" width="5.68" height="1.35" fill="#417a9c"/>
<rect x="467.17" y="215.60" width="5.68" height="1.35" fill="#4688af"/>
<rect x="472.80" y="215.60" width="5.68" height="1.35" fill="#59b5ea"/>
<rect x="478.43" y="215.60" width="5.68" height="1.35" fill="#5ab6ec"/>
<rect x="484.07" y="215.60" width="5.68" height="1.35" fill="#56acdf"/>
<rect x="422.10" y="216.90" width="5.68" height="1.35" fill="#918d2a"/>
<rect x="427.73" y="216.90" width="5.68" height="1.35" fill="#3d3f23"/>
<rect x="433.37" y="216.90" width="5.68" height="1.35" fill="#2c2f21"/>
<rect x="439.00" y="216.90" width="5.68" height="1.35" fill="#646326"/>
<rect x="444.63" y="216.90" width="5.68" height="1.35" fill="#b9b32d"/>
<rect x="450.27" y="216.90" width="5.68" height="1.35" fill="#212520"/>
<rect x="455.90" y="216.90" width="5.68" height="1.35" fill="#4d99c5"/>
<rect x="461.53" y="216.90" width="5.68" height="1.35" fill="#5ab6ec"/>
<rect x="467.17" y="216.90" width="5.68" height="1.35" fill="#2d4c5e"/>
<rect x="472.80" y="216.90" width="5.68" height="1.35" fill="#4f9dcb"/>
<rect x="478.43" y="216.90" width="5.68" height="1.35" fill="#51a1d0"/>
<rect x="484.07" y="216.90" width="5.68" height="1.35" fill="#2f5165"/>
<rect x="422.10" y="218.20" width="5.68" height="1.35" fill="#ada72c"/>
<rect x="427.73" y="218.20" width="5.68" height="1.35" fill="#eae131"/>
<rect x="433.37" y="218.20" width="5.68" height="1.35" fill="#c4bd2e"/>
<rect x="439.00" y="218.20" width="5.68" height="1.35" fill="#ede331"/>
<rect x="444.63" y="218.20" width="5.68" height="1.35" fill="#e4db31"/>
<rect x="450.27" y="218.20" width="5.68" height="1.35" fill="#646326"/>
<rect x="455.90" y="218.20" width="5.68" height="1.35" fill="#1a1f21"/>
<rect x="461.53" y="218.20" width="5.68" height="1.35" fill="#396883"/>
<rect x="467.17" y="218.20" width="5.68" height="1.35" fill="#3a3b22"/>
<rect x="472.80" y="218.20" width="5.68" height="1.35" fill="#23353f"/>
<rect x="478.43" y="218.20" width="5.68" height="1.35" fill="#253a45"/>
<rect x="484.07" y="218.20" width="5.68" height="1.35" fill="#3e7494"/>
<rect x="422.10" y="219.50" width="5.68" height="1.35" fill="#797728"/>
<rect x="427.73" y="219.50" width="5.68" height="1.35" fill="#424323"/>
<rect x="433.37" y="219.50" width="5.68" height="1.35" fill="#595925"/>
<rect x="439.00" y="219.50" width="5.68" height="1.35" fill="#807e28"/>
<rect x="444.63" y="219.50" width="5.68" height="1.35" fill="#414223"/>
<rect x="450.27" y="219.50" width="5.68" height="1.35" fill="#434523"/>
<rect x="455.90" y="219.50" width="5.68" height="1.35" fill="#2f5165"/>
<rect x="461.53" y="219.50" width="5.68" height="1.35" fill="#3f7696"/>
<rect x="467.17" y="219.50" width="5.68" height="1.35" fill="#2f5064"/>
<rect x="472.80" y="219.50" width="5.68" height="1.35" fill="#3f7596"/>
<rect x="478.43" y="219.50" width="5.68" height="1.35" fill="#427ea1"/>
<rect x="484.07" y="219.50" width="5.68" height="1.35" fill="#2e4f62"/>
<rect x="422.10" y="220.80" width="5.68" height="1.35" fill="#444523"/>
<rect x="427.73" y="220.80" width="5.68" height="1.35" fill="#b8b22d"/>
<rect x="433.37" y="220.80" width="5.68" height="1.35" fill="#606025"/>
<rect x="439.00" y="220.80" width="5.68" height="1.35" fill="#323522"/>
<rect x="444.63" y="220.80" width="5.68" height="1.35" fill="#9d992b"/>
<rect x="450.27" y="220.80" width="5.68" height="1.35" fill="#3d3e22"/>
<rect x="455.90" y="220.80" width="5.68" height="1.35" fill="#3c708e"/>
<rect x="461.53" y="220.80" width="5.68" height="1.35" fill="#4f9dcb"/>
<rect x="467.17" y="220.80" width="5.68" height="1.35" fill="#355f77"/>
<rect x="472.80" y="220.80" width="5.68" height="1.35" fill="#498fb8"/>
<rect x="478.43" y="220.80" width="5.68" height="1.35" fill="#488cb3"/>
<rect x="484.07" y="220.80" width="5.68" height="1.35" fill="#2c4959"/>
<rect x="422.10" y="222.10" width="5.68" height="1.35" fill="#787627"/>
<rect x="427.73" y="222.10" width="5.68" height="1.35" fill="#464723"/>
<rect x="433.37" y="222.10" width="5.68" height="1.35" fill="#313321"/>
<rect x="439.00" y="222.10" width="5.68" height="1.35" fill="#5e5e25"/>
<rect x="444.63" y="222.10" width="5.68" height="1.35" fill="#94902a"/>
<rect x="450.27" y="222.10" width="5.68" height="1.35" fill="#1a1e20"/>
<rect x="455.90" y="222.10" width="5.68" height="1.35" fill="#37647f"/>
<rect x="461.53" y="222.10" width="5.68" height="1.35" fill="#417a9c"/>
<rect x="467.17" y="222.10" width="5.68" height="1.35" fill="#36627c"/>
<rect x="472.80" y="222.10" width="5.68" height="1.35" fill="#4585aa"/>
<rect x="478.43" y="222.10" width="5.68" height="1.35" fill="#4c94bf"/>
<rect x="484.07" y="222.10" width="5.68" height="1.35" fill="#3f7696"/>
<rect x="422.10" y="223.40" width="5.68" height="1.35" fill="#8d8929"/>
<rect x="427.73" y="223.40" width="5.68" height="1.35" fill="#e8de31"/>
<rect x="433.37" y="223.40" width="5.68" height="1.35" fill="#b1ab2c"/>
<rect x="439.00" y="223.40" width="5.68" height="1.35" fill="#e5dc31"/>
<rect x="444.63" y="223.40" width="5.68" height="1.35" fill="#bdb62d"/>
<rect x="450.27" y="223.40" width="5.68" height="1.35" fill="#282b21"/>
<rect x="455.90" y="223.40" width="5.68" height="1.35" fill="#2b4656"/>
<rect x="461.53" y="223.40" width="5.68" height="1.35" fill="#2d4b5c"/>
<rect x="467.17" y="223.40" width="5.68" height="1.35" fill="#1a1e20"/>
<rect x="472.80" y="223.40" width="5.68" height="1.35" fill="#3a6b88"/>
<rect x="478.43" y="223.40" width="5.68" height="1.35" fill="#2e4e61"/>
<rect x="484.07" y="223.40" width="5.68" height="1.35" fill="#1d2120"/>
<rect x="422.10" y="224.70" width="5.68" height="1.35" fill="#2b4757"/>
<rect x="427.73" y="224.70" width="5.68" height="1.35" fill="#404123"/>
<rect x="433.37" y="224.70" width="5.68" height="1.35" fill="#1f2320"/>
<rect x="439.00" y="224.70" width="5.68" height="1.35" fill="#1b2226"/>
<rect x="444.63" y="224.70" width="5.68" height="1.35" fill="#1a2022"/>
<rect x="450.27" y="224.70" width="5.68" height="1.35" fill="#2e4f62"/>
<rect x="455.90" y="224.70" width="5.68" height="1.35" fill="#4e9ac7"/>
<rect x="461.53" y="224.70" width="5.68" height="1.35" fill="#5ab6ec"/>
<rect x="467.17" y="224.70" width="5.68" height="1.35" fill="#2f5164"/>
<rect x="472.80" y="224.70" width="5.68" height="1.35" fill="#5ab6ec"/>
<rect x="478.43" y="224.70" width="5.68" height="1.35" fill="#5ab6ec"/>
<rect x="484.07" y="224.70" width="5.68" height="1.35" fill="#5ab6ec"/>
<rect x="422.10" y="226.00" width="5.68" height="1.35" fill="#2a2d21"/>
<rect x="427.73" y="226.00" width="5.68" height="1.35" fill="#273d4a"/>
<rect x="433.37" y="226.00" width="5.68" height="1.35" fill="#272a21"/>
<rect x="439.00" y="226.00" width="5.68" height="1.35" fill="#434423"/>
<rect x="444.63" y="226.00" width="5.68" height="1.35" fill="#1b2124"/>
<rect x="450.27" y="226.00" width="5.68" height="1.35" fill="#1f2a30"/>
<rect x="455.90" y="226.00" width="5.68" height="1.35" fill="#202e36"/>
<rect x="461.53" y="226.00" width="5.68" height="1.35" fill="#243742"/>
<rect x="467.17" y="226.00" width="5.68" height="1.35" fill="#1a1e20"/>
<rect x="472.80" y="226.00" width="5.68" height="1.35" fill="#4380a3"/>
<rect x="478.43" y="226.00" width="5.68" height="1.35" fill="#31556a"/>
<rect x="484.07" y="226.00" width="5.68" height="1.35" fill="#315469"/>
<rect x="422.10" y="227.30" width="5.68" height="1.35" fill="#716f27"/>
<rect x="427.73" y="227.30" width="5.68" height="1.35" fill="#1e272c"/>
<rect x="433.37" y="227.30" width="5.68" height="1.35" fill="#7c7928"/>
<rect x="439.00" y="227.30" width="5.68" height="1.35" fill="#1b2023"/>
<rect x="444.63" y="227.30" width="5.68" height="1.35" fill="#6d6c27"/>
<rect x="450.27" y="227.30" width="5.68" height="1.35" fill="#23353f"/>
<rect x="455.90" y="227.30" width="5.68" height="1.35" fill="#1f2b31"/>
<rect x="461.53" y="227.30" width="5.68" height="1.35" fill="#1b1f20"/>
<rect x="467.17" y="227.30" width="5.68" height="1.35" fill="#1f2b32"/>
<rect x="472.80" y="227.30" width="5.68" height="1.35" fill="#253843"/>
<rect x="478.43" y="227.30" width="5.68" height="1.35" fill="#1c2428"/>
<rect x="484.07" y="227.30" width="5.68" height="1.35" fill="#22323c"/>
<rect x="422.10" y="228.60" width="5.68" height="1.35" fill="#656426"/>
<rect x="427.73" y="228.60" width="5.68" height="1.35" fill="#696826"/>
<rect x="433.37" y="228.60" width="5.68" height="1.35" fill="#313421"/>
<rect x="439.00" y="228.60" width="5.68" height="1.35" fill="#868229"/>
<rect x="444.63" y="228.60" width="5.68" height="1.35" fill="#1a1e20"/>
<rect x="450.27" y="228.60" width="5.68" height="1.35" fill="#282b21"/>
<rect x="455.90" y="228.60" width="5.68" height="1.35" fill="#2b4758"/>
<rect x="461.53" y="228.60" width="5.68" height="1.35" fill="#2a4555"/>
<rect x="467.17" y="228.60" width="5.68" height="1.35" fill="#1f2a30"/>
<rect x="472.80" y="228.60" width="5.68" height="1.35" fill="#2c4a5c"/>
<rect x="478.43" y="228.60" width="5.68" height="1.35" fill="#253944"/>
<rect x="484.07" y="228.60" width="5.68" height="1.35" fill="#3c6f8d"/>
<rect x="422.10" y="229.90" width="5.68" height="1.35" fill="#1a2022"/>
<rect x="427.73" y="229.90" width="5.68" height="1.35" fill="#23353f"/>
<rect x="433.37" y="229.90" width="5.68" height="1.35" fill="#273d4a"/>
<rect x="439.00" y="229.90" width="5.68" height="1.35" fill="#32576d"/>
<rect x="444.63" y="229.90" width="5.68" height="1.35" fill="#323422"/>
<rect x="450.27" y="229.90" width="5.68" height="1.35" fill="#243742"/>
<rect x="455.90" y="229.90" width="5.68" height="1.35" fill="#294352"/>
<rect x="461.53" y="229.90" width="5.68" height="1.35" fill="#4788af"/>
<rect x="467.17" y="229.90" width="5.68" height="1.35" fill="#356079"/>
<rect x="472.80" y="229.90" width="5.68" height="1.35" fill="#4c96c1"/>
<rect x="478.43" y="229.90" width="5.68" height="1.35" fill="#345c73"/>
<rect x="484.07" y="229.90" width="5.68" height="1.35" fill="#2b4758"/>
<rect x="422.10" y="231.20" width="5.68" height="1.25" fill="#2b4656"/>
<rect x="427.73" y="231.20" width="5.68" height="1.25" fill="#1e292f"/>
<rect x="433.37" y="231.20" width="5.68" height="1.25" fill="#2d4c5e"/>
<rect x="439.00" y="231.20" width="5.68" height="1.25" fill="#55abdd"/>
<rect x="444.63" y="231.20" width="5.68" height="1.25" fill="#294351"/>
<rect x="450.27" y="231.20" width="5.68" height="1.25" fill="#36617a"/>
<rect x="455.90" y="231.20" width="5.68" height="1.25" fill="#386681"/>
<rect x="461.53" y="231.20" width="5.68" height="1.25" fill="#305469"/>
<rect x="467.17" y="231.20" width="5.68" height="1.25" fill="#2a4554"/>
<rect x="472.80" y="231.20" width="5.68" height="1.25" fill="#beb72d"/>
<rect x="478.43" y="231.20" width="5.68" height="1.25" fill="#575725"/>
<rect x="484.07" y="231.20" width="5.68" height="1.25" fill="#9a952a"/>
<rect x="422.10" y="232.40" width="5.68" height="1.25" fill="#2c2f21"/>
<rect x="427.73" y="232.40" width="5.68" height="1.25" fill="#323422"/>
<rect x="433.37" y="232.40" width="5.68" height="1.25" fill="#1a1e20"/>
<rect x="439.00" y="232.40" width="5.68" height="1.25" fill="#1a1f21"/>
<rect x="444.63" y="232.40" width="5.68" height="1.25" fill="#1d2529"/>
<rect x="450.27" y="232.40" width="5.68" height="1.25" fill="#1a1f21"/>
<rect x="455.90" y="232.40" width="5.68" height="1.25" fill="#494a23"/>
<rect x="461.53" y="232.40" width="5.68" height="1.25" fill="#1d262b"/>
<rect x="467.17" y="232.40" width="5.68" height="1.25" fill="#2b4858"/>
<rect x="472.80" y="232.40" width="5.68" height="1.25" fill="#d9d030"/>
<rect x="478.43" y="232.40" width="5.68" height="1.25" fill="#96922a"/>
<rect x="484.07" y="232.40" width="5.68" height="1.25" fill="#f0e632"/>
<rect x="422.10" y="233.60" width="5.68" height="1.25" fill="#345c73"/>
<rect x="427.73" y="233.60" width="5.68" height="1.25" fill="#1c2226"/>
<rect x="433.37" y="233.60" width="5.68" height="1.25" fill="#202420"/>
<rect x="439.00" y="233.60" width="5.68" height="1.25" fill="#305266"/>
<rect x="444.63" y="233.60" width="5.68" height="1.25" fill="#1d262b"/>
<rect x="450.27" y="233.60" width="5.68" height="1.25" fill="#283f4c"/>
<rect x="455.90" y="233.60" width="5.68" height="1.25" fill="#1a2022"/>
<rect x="461.53" y="233.60" width="5.68" height="1.25" fill="#1a1e20"/>
<rect x="467.17" y="233.60" width="5.68" height="1.25" fill="#2f3121"/>
<rect x="472.80" y="233.60" width="5.68" height="1.25" fill="#9e992b"/>
<rect x="478.43" y="233.60" width="5.68" height="1.25" fill="#cdc52f"/>
<rect x="484.07" y="233.60" width="5.68" height="1.25" fill="#5c5c25"/>
<rect x="422.10" y="234.80" width="5.68" height="1.25" fill="#54a8d9"/>
<rect x="427.73" y="234.80" width="5.68" height="1.25" fill="#202c33"/>
<rect x="433.37" y="234.80" width="5.68" height="1.25" fill="#3b6c89"/>
<rect x="439.00" y="234.80" width="5.68" height="1.25" fill="#417c9e"/>
<rect x="444.63" y="234.80" width="5.68" height="1.25" fill="#3c708f"/>
<rect x="450.27" y="234.80" width="5.68" height="1.25" fill="#37647f"/>
<rect x="455.90" y="234.80" width="5.68" height="1.25" fill="#3a6b88"/>
<rect x="461.53" y="234.80" width="5.68" height="1.25" fill="#355e76"/>
<rect x="467.17" y="234.80" width="5.68" height="1.25" fill="#1f2930"/>
<rect x="472.80" y="234.80" width="5.68" height="1.25" fill="#807d28"/>
<rect x="478.43" y="234.80" width="5.68" height="1.25" fill="#878429"/>
<rect x="484.07" y="234.80" width="5.68" height="1.25" fill="#8d8929"/>
<rect x="422.10" y="236.00" width="5.68" height="1.25" fill="#417b9d"/>
<rect x="427.73" y="236.00" width="5.68" height="1.25" fill="#263b47"/>
<rect x="433.37" y="236.00" width="5.68" height="1.25" fill="#1a1e21"/>
<rect x="439.00" y="236.00" width="5.68" height="1.25" fill="#498db6"/>
<rect x="444.63" y="236.00" width="5.68" height="1.25" fill="#36627b"/>
<rect x="450.27" y="236.00" width="5.68" height="1.25" fill="#23333c"/>
<rect x="455.90" y="236.00" width="5.68" height="1.25" fill="#22313a"/>
<rect x="461.53" y="236.00" width="5.68" height="1.25" fill="#2d4b5d"/>
<rect x="467.17" y="236.00" width="5.68" height="1.25" fill="#1f2a30"/>
<rect x="472.80" y="236.00" width="5.68" height="1.25" fill="#a8a32c"/>
<rect x="478.43" y="236.00" width="5.68" height="1.25" fill="#6c6a26"/>
<rect x="484.07" y="236.00" width="5.68" height="1.25" fill="#545424"/>
<rect x="422.10" y="237.20" width="5.68" height="1.25" fill="#2e4f62"/>
<rect x="427.73" y="237.20" width="5.68" height="1.25" fill="#2b4757"/>
<rect x="433.37" y="237.20" width="5.68" height="1.25" fill="#32576d"/>
<rect x="439.00" y="237.20" width="5.68" height="1.25" fill="#4483a8"/>
<rect x="444.63" y="237.20" width="5.68" height="1.25" fill="#4687ad"/>
<rect x="450.27" y="237.20" width="5.68" height="1.25" fill="#335a71"/>
<rect x="455.90" y="237.20" width="5.68" height="1.25" fill="#3b6e8b"/>
<rect x="461.53" y="237.20" width="5.68" height="1.25" fill="#2e4e61"/>
<rect x="467.17" y="237.20" width="5.68" height="1.25" fill="#4585aa"/>
<rect x="472.80" y="237.20" width="5.68" height="1.25" fill="#9c982a"/>
<rect x="478.43" y="237.20" width="5.68" height="1.25" fill="#6e6c27"/>
<rect x="484.07" y="237.20" width="5.68" height="1.25" fill="#373922"/>
<rect x="422.10" y="238.40" width="5.68" height="1.25" fill="#2b4859"/>
<rect x="427.73" y="238.40" width="5.68" height="1.25" fill="#2d4c5d"/>
<rect x="433.37" y="238.40" width="5.68" height="1.25" fill="#22323b"/>
<rect x="439.00" y="238.40" width="5.68" height="1.25" fill="#294250"/>
<rect x="444.63" y="238.40" width="5.68" height="1.25" fill="#2a4555"/>
<rect x="450.27" y="238.40" width="5.68" height="1.25" fill="#1b2226"/>
<rect x="455.90" y="238.40" width="5.68" height="1.25" fill="#1a1e20"/>
<rect x="461.53" y="238.40" width="5.68" height="1.25" fill="#1c2429"/>
<rect x="467.17" y="238.40" width="5.68" height="1.25" fill="#1a1f22"/>
<rect x="472.80" y="238.40" width="5.68" height="1.25" fill="#f0e632"/>
<rect x="478.43" y="238.40" width="5.68" height="1.25" fill="#d6cd2f"/>
<rect x="484.07" y="238.40" width="5.68" height="1.25" fill="#c2bb2e"/>
<rect x="422.10" y="239.60" width="5.68" height="1.15" fill="#488db4"/>
<rect x="427.73" y="239.60" width="5.68" height="1.15" fill="#4585ab"/>
<rect x="433.37" y="239.60" width="5.68" height="1.15" fill="#4e9ac6"/>
<rect x="439.00" y="239.60" width="5.68" height="1.15" fill="#343622"/>
<rect x="444.63" y="239.60" width="5.68" height="1.15" fill="#605f25"/>
<rect x="450.27" y="239.60" width="5.68" height="1.15" fill="#1e292f"/>
<rect x="455.90" y="239.60" width="5.68" height="1.15" fill="#4f9cca"/>
<rect x="461.53" y="239.60" width="5.68" height="1.15" fill="#3d7290"/>
<rect x="467.17" y="239.60" width="5.68" height="1.15" fill="#53a5d6"/>
<rect x="472.80" y="239.60" width="5.68" height="1.15" fill="#787627"/>
<rect x="478.43" y="239.60" width="5.68" height="1.15" fill="#8a8729"/>
<rect x="484.07" y="239.60" width="5.68" height="1.15" fill="#5a5a25"/>
<rect x="422.10" y="240.70" width="5.68" height="1.15" fill="#335a71"/>
<rect x="427.73" y="240.70" width="5.68" height="1.15" fill="#40799b"/>
<rect x="433.37" y="240.70" width="5.68" height="1.15" fill="#37637d"/>
<rect x="439.00" y="240.70" width="5.68" height="1.15" fill="#888529"/>
<rect x="444.63" y="240.70" width="5.68" height="1.15" fill="#8a8729"/>
<rect x="450.27" y="240.70" width="5.68" height="1.15" fill="#6b6926"/>
<rect x="455.90" y="240.70" width="5.68" height="1.15" fill="#3e7595"/>
<rect x="461.53" y="240.70" width="5.68" height="1.15" fill="#417b9d"/>
<rect x="467.17" y="240.70" width="5.68" height="1.15" fill="#396883"/>
<rect x="472.80" y="240.70" width="5.68" height="1.15" fill="#c4bd2e"/>
<rect x="478.43" y="240.70" width="5.68" height="1.15" fill="#a5a02b"/>
<rect x="484.07" y="240.70" width="5.68" height="1.15" fill="#8e8a29"/>
<rect x="422.10" y="241.80" width="5.68" height="1.15" fill="#31566c"/>
<rect x="427.73" y="241.80" width="5.68" height="1.15" fill="#3c708f"/>
<rect x="433.37" y="241.80" width="5.68" height="1.15" fill="#3d7190"/>
<rect x="439.00" y="241.80" width="5.68" height="1.15" fill="#242720"/>
<rect x="444.63" y="241.80" width="5.68" height="1.15" fill="#616025"/>
<rect x="450.27" y="241.80" width="5.68" height="1.15" fill="#535324"/>
<rect x="455.90" y="241.80" width="5.68" height="1.15" fill="#3c6f8d"/>
<rect x="461.53" y="241.80" width="5.68" height="1.15" fill="#427d9f"/>
<rect x="467.17" y="241.80" width="5.68" height="1.15" fill="#427da0"/>
<rect x="472.80" y="241.80" width="5.68" height="1.15" fill="#95912a"/>
<rect x="478.43" y="241.80" width="5.68" height="1.15" fill="#4f5024"/>
<rect x="484.07" y="241.80" width="5.68" height="1.15" fill="#96922a"/>
<rect x="422.10" y="242.90" width="5.68" height="1.15" fill="#417a9c"/>
<rect x="427.73" y="242.90" width="5.68" height="1.15" fill="#32576d"/>
<rect x="433.37" y="242.90" width="5.68" height="1.15" fill="#2b4858"/>
<rect x="439.00" y="242.90" width="5.68" height="1.15" fill="#5a5a25"/>
<rect x="444.63" y="242.90" width="5.68" height="1.15" fill="#606025"/>
<rect x="450.27" y="242.90" width="5.68" height="1.15" fill="#6c6b26"/>
<rect x="455.90" y="242.90" width="5.68" height="1.15" fill="#3d7392"/>
<rect x="461.53" y="242.90" width="5.68" height="1.15" fill="#3e7595"/>
<rect x="467.17" y="242.90" width="5.68" height="1.15" fill="#3f7798"/>
<rect x="472.80" y="242.90" width="5.68" height="1.15" fill="#ddd430"/>
<rect x="478.43" y="242.90" width="5.68" height="1.15" fill="#b6b02d"/>
<rect x="484.07" y="242.90" width="5.68" height="1.15" fill="#7f7c28"/>
<rect x="422.10" y="244.00" width="5.68" height="1.25" fill="#28404e"/>
<rect x="427.73" y="244.00" width="5.68" height="1.25" fill="#202d35"/>
<rect x="433.37" y="244.00" width="5.68" height="1.25" fill="#2a4554"/>
<rect x="439.00" y="244.00" width="5.68" height="1.25" fill="#57afe2"/>
<rect x="444.63" y="244.00" width="5.68" height="1.25" fill="#4b92bc"/>
<rect x="450.27" y="244.00" width="5.68" height="1.25" fill="#2e4d60"/>
<rect x="455.90" y="244.00" width="5.68" height="1.25" fill="#1c2327"/>
<rect x="461.53" y="244.00" width="5.68" height="1.25" fill="#7a7828"/>
<rect x="467.17" y="244.00" width="5.68" height="1.25" fill="#5d5c25"/>
<rect x="472.80" y="244.00" width="5.68" height="1.25" fill="#9d992b"/>
<rect x="478.43" y="244.00" width="5.68" height="1.25" fill="#282b21"/>
<rect x="484.07" y="244.00" width="5.68" height="1.25" fill="#28404e"/>
<rect x="422.10" y="245.20" width="5.68" height="1.25" fill="#22313a"/>
<rect x="427.73" y="245.20" width="5.68" height="1.25" fill="#323422"/>
<rect x="433.37" y="245.20" width="5.68" height="1.25" fill="#263c49"/>
<rect x="439.00" y="245.20" width="5.68" height="1.25" fill="#4d98c4"/>
<rect x="444.63" y="245.20" width="5.68" height="1.25" fill="#243640"/>
<rect x="450.27" y="245.20" width="5.68" height="1.25" fill="#1c2429"/>
<rect x="455.90" y="245.20" width="5.68" height="1.25" fill="#7d7a28"/>
<rect x="461.53" y="245.20" width="5.68" height="1.25" fill="#c8c02e"/>
<rect x="467.17" y="245.20" width="5.68" height="1.25" fill="#a6a12b"/>
<rect x="472.80" y="245.20" width="5.68" height="1.25" fill="#d0c82f"/>
<rect x="478.43" y="245.20" width="5.68" height="1.25" fill="#8a8729"/>
<rect x="484.07" y="245.20" width="5.68" height="1.25" fill="#272a21"/>
<rect x="422.10" y="246.40" width="5.68" height="1.25" fill="#2a4554"/>
<rect x="427.73" y="246.40" width="5.68" height="1.25" fill="#263b47"/>
<rect x="433.37" y="246.40" width="5.68" height="1.25" fill="#273e4c"/>
<rect x="439.00" y="246.40" width="5.68" height="1.25" fill="#417b9d"/>
<rect x="444.63" y="246.40" width="5.68" height="1.25" fill="#2a4555"/>
<rect x="450.27" y="246.40" width="5.68" height="1.25" fill="#213039"/>
<rect x="455.90" y="246.40" width="5.68" height="1.25" fill="#a09b2b"/>
<rect x="461.53" y="246.40" width="5.68" height="1.25" fill="#afa92c"/>
<rect x="467.17" y="246.40" width="5.68" height="1.25" fill="#565625"/>
<rect x="472.80" y="246.40" width="5.68" height="1.25" fill="#cac32e"/>
<rect x="478.43" y="246.40" width="5.68" height="1.25" fill="#585825"/>
<rect x="484.07" y="246.40" width="5.68" height="1.25" fill="#353722"/>
<rect x="422.10" y="247.60" width="5.68" height="1.25" fill="#55aadc"/>
<rect x="427.73" y="247.60" width="5.68" height="1.25" fill="#32586d"/>
<rect x="433.37" y="247.60" width="5.68" height="1.25" fill="#2a4453"/>
<rect x="439.00" y="247.60" width="5.68" height="1.25" fill="#5ab6ec"/>
<rect x="444.63" y="247.60" width="5.68" height="1.25" fill="#4d98c4"/>
<rect x="450.27" y="247.60" width="5.68" height="1.25" fill="#356079"/>
<rect x="455.90" y="247.60" width="5.68" height="1.25" fill="#706f27"/>
<rect x="461.53" y="247.60" width="5.68" height="1.25" fill="#b2ac2c"/>
<rect x="467.17" y="247.60" width="5.68" height="1.25" fill="#6f6d27"/>
<rect x="472.80" y="247.60" width="5.68" height="1.25" fill="#ccc52f"/>
<rect x="478.43" y="247.60" width="5.68" height="1.25" fill="#616126"/>
<rect x="484.07" y="247.60" width="5.68" height="1.25" fill="#243742"/>
<rect x="422.10" y="248.80" width="5.68" height="1.25" fill="#272a21"/>
<rect x="427.73" y="248.80" width="5.68" height="1.25" fill="#414323"/>
<rect x="433.37" y="248.80" width="5.68" height="1.25" fill="#1d262b"/>
<rect x="439.00" y="248.80" width="5.68" height="1.25" fill="#54a8da"/>
<rect x="444.63" y="248.80" width="5.68" height="1.25" fill="#2c4859"/>
<rect x="450.27" y="248.80" width="5.68" height="1.25" fill="#262a21"/>
<rect x="455.90" y="248.80" width="5.68" height="1.25" fill="#95912a"/>
<rect x="461.53" y="248.80" width="5.68" height="1.25" fill="#f0e632"/>
<rect x="467.17" y="248.80" width="5.68" height="1.25" fill="#c2bb2e"/>
<rect x="472.80" y="248.80" width="5.68" height="1.25" fill="#f0e632"/>
<rect x="478.43" y="248.80" width="5.68" height="1.25" fill="#827f28"/>
<rect x="484.07" y="248.80" width="5.68" height="1.25" fill="#838028"/>
<rect x="422.10" y="250.00" width="5.68" height="1.25" fill="#1f2b32"/>
<rect x="427.73" y="250.00" width="5.68" height="1.25" fill="#3c3d22"/>
<rect x="433.37" y="250.00" width="5.68" height="1.25" fill="#535324"/>
<rect x="439.00" y="250.00" width="5.68" height="1.25" fill="#4482a6"/>
<rect x="444.63" y="250.00" width="5.68" height="1.25" fill="#1b2124"/>
<rect x="450.27" y="250.00" width="5.68" height="1.25" fill="#454623"/>
<rect x="455.90" y="250.00" width="5.68" height="1.25" fill="#bbb42d"/>
<rect x="461.53" y="250.00" width="5.68" height="1.25" fill="#d4cb2f"/>
<rect x="467.17" y="250.00" width="5.68" height="1.25" fill="#cdc62f"/>
<rect x="472.80" y="250.00" width="5.68" height="1.25" fill="#f0e632"/>
<rect x="478.43" y="250.00" width="5.68" height="1.25" fill="#cfc72f"/>
<rect x="484.07" y="250.00" width="5.68" height="1.25" fill="#5d5d25"/>
<rect x="422.10" y="251.20" width="5.68" height="1.25" fill="#22313a"/>
<rect x="427.73" y="251.20" width="5.68" height="1.25" fill="#202420"/>
<rect x="433.37" y="251.20" width="5.68" height="1.25" fill="#2b4858"/>
<rect x="439.00" y="251.20" width="5.68" height="1.25" fill="#4e9ac7"/>
<rect x="444.63" y="251.20" width="5.68" height="1.25" fill="#335a71"/>
<rect x="450.27" y="251.20" width="5.68" height="1.25" fill="#1b2124"/>
<rect x="455.90" y="251.20" width="5.68" height="1.25" fill="#636326"/>
<rect x="461.53" y="251.20" width="5.68" height="1.25" fill="#b6af2d"/>
<rect x="467.17" y="251.20" width="5.68" height="1.25" fill="#95912a"/>
<rect x="472.80" y="251.20" width="5.68" height="1.25" fill="#8b8829"/>
<rect x="478.43" y="251.20" width="5.68" height="1.25" fill="#646326"/>
<rect x="484.07" y="251.20" width="5.68" height="1.25" fill="#2c4a5b"/>
<rect x="422.10" y="252.40" width="5.68" height="1.25" fill="#2c4a5c"/>
<rect x="427.73" y="252.40" width="5.68" height="1.25" fill="#1d272c"/>
<rect x="433.37" y="252.40" width="5.68" height="1.25" fill="#36627b"/>
<rect x="439.00" y="252.40" width="5.68" height="1.25" fill="#5ab6ec"/>
<rect x="444.63" y="252.40" width="5.68" height="1.25" fill="#498db6"/>
<rect x="450.27" y="252.40" width="5.68" height="1.25" fill="#1e2220"/>
<rect x="455.90" y="252.40" width="5.68" height="1.25" fill="#807d28"/>
<rect x="461.53" y="252.40" width="5.68" height="1.25" fill="#dad130"/>
<rect x="467.17" y="252.40" width="5.68" height="1.25" fill="#595925"/>
<rect x="472.80" y="252.40" width="5.68" height="1.25" fill="#9e992b"/>
<rect x="478.43" y="252.40" width="5.68" height="1.25" fill="#1e2120"/>
<rect x="484.07" y="252.40" width="5.68" height="1.25" fill="#1a1e20"/>
<rect x="422.10" y="253.60" width="5.68" height="1.25" fill="#345c73"/>
<rect x="427.73" y="253.60" width="5.68" height="1.25" fill="#2c2f21"/>
<rect x="433.37" y="253.60" width="5.68" height="1.25" fill="#1d272c"/>
<rect x="439.00" y="253.60" width="5.68" height="1.25" fill="#58b1e5"/>
<rect x="444.63" y="253.60" width="5.68" height="1.25" fill="#3a6a86"/>
<rect x="450.27" y="253.60" width="5.68" height="1.25" fill="#22313a"/>
<rect x="455.90" y="253.60" width="5.68" height="1.25" fill="#97932a"/>
<rect x="461.53" y="253.60" width="5.68" height="1.25" fill="#beb72d"/>
<rect x="467.17" y="253.60" width="5.68" height="1.25" fill="#bbb42d"/>
<rect x="472.80" y="253.60" width="5.68" height="1.25" fill="#f0e632"/>
<rect x="478.43" y="253.60" width="5.68" height="1.25" fill="#afa92c"/>
<rect x="484.07" y="253.60" width="5.68" height="1.25" fill="#4f5024"/>
<rect x="422.10" y="254.80" width="5.68" height="1.25" fill="#373922"/>
<rect x="427.73" y="254.80" width="5.68" height="1.25" fill="#1a1e20"/>
<rect x="433.37" y="254.80" width="5.68" height="1.25" fill="#22323b"/>
<rect x="439.00" y="254.80" width="5.68" height="1.25" fill="#488db5"/>
<rect x="444.63" y="254.80" width="5.68" height="1.25" fill="#2b4757"/>
<rect x="450.27" y="254.80" width="5.68" height="1.25" fill="#2c2f21"/>
<rect x="455.90" y="254.80" width="5.68" height="1.25" fill="#c6bf2e"/>
<rect x="461.53" y="254.80" width="5.68" height="1.25" fill="#f0e632"/>
<rect x="467.17" y="254.80" width="5.68" height="1.25" fill="#95912a"/>
<rect x="472.80" y="254.80" width="5.68" height="1.25" fill="#d0c82f"/>
<rect x="478.43" y="254.80" width="5.68" height="1.25" fill="#aea82c"/>
<rect x="484.07" y="254.80" width="5.68" height="1.25" fill="#464723"/>
<rect x="422.10" y="256.00" width="5.68" height="1.30" fill="#32576d"/>
<rect x="427.73" y="256.00" width="5.68" height="1.30" fill="#294352"/>
<rect x="433.37" y="256.00" width="5.68" height="1.30" fill="#2d4c5e"/>
<rect x="439.00" y="256.00" width="5.68" height="1.30" fill="#488cb4"/>
<rect x="444.63" y="256.00" width="5.68" height="1.30" fill="#32586e"/>
<rect x="450.27" y="256.00" width="5.68" height="1.30" fill="#2f5063"/>
<rect x="455.90" y="256.00" width="5.68" height="1.30" fill="#606025"/>
<rect x="461.53" y="256.00" width="5.68" height="1.30" fill="#2a2c21"/>
<rect x="467.17" y="256.00" width="5.68" height="1.30" fill="#444623"/>
<rect x="472.80" y="256.00" width="5.68" height="1.30" fill="#484923"/>
<rect x="478.43" y="256.00" width="5.68" height="1.30" fill="#2e4e61"/>
<rect x="484.07" y="256.00" width="5.68" height="1.30" fill="#294250"/>
<rect x="422.10" y="257.25" width="5.68" height="1.30" fill="#3b6c89"/>
<rect x="427.73" y="257.25" width="5.68" height="1.30" fill="#1f2c32"/>
<rect x="433.37" y="257.25" width="5.68" height="1.30" fill="#32596f"/>
<rect x="439.00" y="257.25" width="5.68" height="1.30" fill="#417c9e"/>
<rect x="444.63" y="257.25" width="5.68" height="1.30" fill="#263b47"/>
<rect x="450.27" y="257.25" width="5.68" height="1.30" fill="#23343e"/>
<rect x="455.90" y="257.25" width="5.68" height="1.30" fill="#5a5a25"/>
<rect x="461.53" y="257.25" width="5.68" height="1.30" fill="#94902a"/>
<rect x="467.17" y="257.25" width="5.68" height="1.30" fill="#767427"/>
<rect x="472.80" y="257.25" width="5.68" height="1.30" fill="#727027"/>
<rect x="478.43" y="257.25" width="5.68" height="1.30" fill="#1d2120"/>
<rect x="484.07" y="257.25" width="5.68" height="1.30" fill="#2d4c5e"/>
<rect x="422.10" y="258.51" width="5.68" height="1.30" fill="#427da0"/>
<rect x="427.73" y="258.51" width="5.68" height="1.30" fill="#355f78"/>
<rect x="433.37" y="258.51" width="5.68" height="1.30" fill="#4d99c5"/>
<rect x="439.00" y="258.51" width="5.68" height="1.30" fill="#5ab6ec"/>
<rect x="444.63" y="258.51" width="5.68" height="1.30" fill="#4380a4"/>
<rect x="450.27" y="258.51" width="5.68" height="1.30" fill="#33596f"/>
<rect x="455.90" y="258.51" width="5.68" height="1.30" fill="#515124"/>
<rect x="461.53" y="258.51" width="5.68" height="1.30" fill="#505024"/>
<rect x="467.17" y="258.51" width="5.68" height="1.30" fill="#918d2a"/>
<rect x="472.80" y="258.51" width="5.68" height="1.30" fill="#1a1e20"/>
<rect x="478.43" y="258.51" width="5.68" height="1.30" fill="#1f2b32"/>
<rect x="484.07" y="258.51" width="5.68" height="1.30" fill="#366079"/>
<rect x="422.10" y="259.76" width="5.68" height="1.30" fill="#3a6b87"/>
<rect x="427.73" y="259.76" width="5.68" height="1.30" fill="#1b2023"/>
<rect x="433.37" y="259.76" width="5.68" height="1.30" fill="#22323a"/>
<rect x="439.00" y="259.76" width="5.68" height="1.30" fill="#345d74"/>
<rect x="444.63" y="259.76" width="5.68" height="1.30" fill="#454623"/>
<rect x="450.27" y="259.76" width="5.68" height="1.30" fill="#222620"/>
<rect x="455.90" y="259.76" width="5.68" height="1.30" fill="#cfc72f"/>
<rect x="461.53" y="259.76" width="5.68" height="1.30" fill="#ded630"/>
<rect x="467.17" y="259.76" width="5.68" height="1.30" fill="#c3bc2e"/>
<rect x="472.80" y="259.76" width="5.68" height="1.30" fill="#908c29"/>
<rect x="478.43" y="259.76" width="5.68" height="1.30" fill="#2f3221"/>
<rect x="484.07" y="259.76" width="5.68" height="1.30" fill="#1f2220"/>
<rect x="422.10" y="261.02" width="5.68" height="1.30" fill="#2e4d60"/>
<rect x="427.73" y="261.02" width="5.68" height="1.30" fill="#355e77"/>
<rect x="433.37" y="261.02" width="5.68" height="1.30" fill="#3b6d8a"/>
<rect x="439.00" y="261.02" width="5.68" height="1.30" fill="#3e7393"/>
<rect x="444.63" y="261.02" width="5.68" height="1.30" fill="#3d7190"/>
<rect x="450.27" y="261.02" width="5.68" height="1.30" fill="#305468"/>
<rect x="455.90" y="261.02" width="5.68" height="1.30" fill="#727027"/>
<rect x="461.53" y="261.02" width="5.68" height="1.30" fill="#6a6926"/>
<rect x="467.17" y="261.02" width="5.68" height="1.30" fill="#2f3121"/>
<rect x="472.80" y="261.02" width="5.68" height="1.30" fill="#343622"/>
<rect x="478.43" y="261.02" width="5.68" height="1.30" fill="#213038"/>
<rect x="484.07" y="261.02" width="5.68" height="1.30" fill="#2c4a5b"/>
<rect x="422.10" y="262.27" width="5.68" height="1.30" fill="#243742"/>
<rect x="427.73" y="262.27" width="5.68" height="1.30" fill="#1f2320"/>
<rect x="433.37" y="262.27" width="5.68" height="1.30" fill="#3a6a86"/>
<rect x="439.00" y="262.27" width="5.68" height="1.30" fill="#4f9cc9"/>
<rect x="444.63" y="262.27" width="5.68" height="1.30" fill="#3b6e8b"/>
<rect x="450.27" y="262.27" width="5.68" height="1.30" fill="#1f2a31"/>
<rect x="455.90" y="262.27" width="5.68" height="1.30" fill="#3d3f22"/>
<rect x="461.53" y="262.27" width="5.68" height="1.30" fill="#8d8a29"/>
<rect x="467.17" y="262.27" width="5.68" height="1.30" fill="#444623"/>
<rect x="472.80" y="262.27" width="5.68" height="1.30" fill="#212420"/>
<rect x="478.43" y="262.27" width="5.68" height="1.30" fill="#1d262b"/>
<rect x="484.07" y="262.27" width="5.68" height="1.30" fill="#23333c"/>
<rect x="422.10" y="263.53" width="5.68" height="1.30" fill="#355f77"/>
<rect x="427.73" y="263.53" width="5.68" height="1.30" fill="#1e2220"/>
<rect x="433.37" y="263.53" width="5.68" height="1.30" fill="#32576c"/>
<rect x="439.00" y="263.53" width="5.68" height="1.30" fill="#4584a9"/>
<rect x="444.63" y="263.53" width="5.68" height="1.30" fill="#1f2a30"/>
<rect x="450.27" y="263.53" width="5.68" height="1.30" fill="#1a1f22"/>
<rect x="455.90" y="263.53" width="5.68" height="1.30" fill="#605f25"/>
<rect x="461.53" y="263.53" width="5.68" height="1.30" fill="#eae031"/>
<rect x="467.17" y="263.53" width="5.68" height="1.30" fill="#727027"/>
<rect x="472.80" y="263.53" width="5.68" height="1.30" fill="#6e6c27"/>
<rect x="478.43" y="263.53" width="5.68" height="1.30" fill="#22323a"/>
<rect x="484.07" y="263.53" width="5.68" height="1.30" fill="#28404e"/>
<rect x="422.10" y="264.78" width="5.68" height="1.30" fill="#2f5064"/>
<rect x="427.73" y="264.78" width="5.68" height="1.30" fill="#243640"/>
<rect x="433.37" y="264.78" width="5.68" height="1.30" fill="#54a7d9"/>
<rect x="439.00" y="264.78" width="5.68" height="1.30" fill="#5ab6ec"/>
<rect x="444.63" y="264.78" width="5.68" height="1.30" fill="#55aadc"/>
<rect x="450.27" y="264.78" width="5.68" height="1.30" fill="#2c495a"/>
<rect x="455.90" y="264.78" width="5.68" height="1.30" fill="#232620"/>
<rect x="461.53" y="264.78" width="5.68" height="1.30" fill="#4d4e24"/>
<rect x="467.17" y="264.78" width="5.68" height="1.30" fill="#272b21"/>
<rect x="472.80" y="264.78" width="5.68" height="1.30" fill="#1b2125"/>
<rect x="478.43" y="264.78" width="5.68" height="1.30" fill="#3a6b88"/>
<rect x="484.07" y="264.78" width="5.68" height="1.30" fill="#3b6e8c"/>
<rect x="422.10" y="266.04" width="5.68" height="1.30" fill="#3f7798"/>
<rect x="427.73" y="266.04" width="5.68" height="1.30" fill="#2b4757"/>
<rect x="433.37" y="266.04" width="5.68" height="1.30" fill="#3d7190"/>
<rect x="439.00" y="266.04" width="5.68" height="1.30" fill="#5ab6ec"/>
<rect x="444.63" y="266.04" width="5.68" height="1.30" fill="#498eb6"/>
<rect x="450.27" y="266.04" width="5.68" height="1.30" fill="#335a71"/>
<rect x="455.90" y="266.04" width="5.68" height="1.30" fill="#2d2f21"/>
<rect x="461.53" y="266.04" width="5.68" height="1.30" fill="#938f2a"/>
<rect x="467.17" y="266.04" width="5.68" height="1.30" fill="#565625"/>
<rect x="472.80" y="266.04" width="5.68" height="1.30" fill="#1d2120"/>
<rect x="478.43" y="266.04" width="5.68" height="1.30" fill="#305367"/>
<rect x="484.07" y="266.04" width="5.68" height="1.30" fill="#407899"/>
<rect x="422.10" y="267.29" width="5.68" height="1.30" fill="#3c718f"/>
<rect x="427.73" y="267.29" width="5.68" height="1.30" fill="#263a46"/>
<rect x="433.37" y="267.29" width="5.68" height="1.30" fill="#36627b"/>
<rect x="439.00" y="267.29" width="5.68" height="1.30" fill="#4d98c5"/>
<rect x="444.63" y="267.29" width="5.68" height="1.30" fill="#23333d"/>
<rect x="450.27" y="267.29" width="5.68" height="1.30" fill="#36627c"/>
<rect x="455.90" y="267.29" width="5.68" height="1.30" fill="#4f4f24"/>
<rect x="461.53" y="267.29" width="5.68" height="1.30" fill="#d6ce2f"/>
<rect x="467.17" y="267.29" width="5.68" height="1.30" fill="#1b2023"/>
<rect x="472.80" y="267.29" width="5.68" height="1.30" fill="#212420"/>
<rect x="478.43" y="267.29" width="5.68" height="1.30" fill="#243640"/>
<rect x="484.07" y="267.29" width="5.68" height="1.30" fill="#305469"/>
<rect x="422.10" y="268.55" width="5.68" height="1.30" fill="#2c4859"/>
<rect x="427.73" y="268.55" width="5.68" height="1.30" fill="#1f2220"/>
<rect x="433.37" y="268.55" width="5.68" height="1.30" fill="#2c4959"/>
<rect x="439.00" y="268.55" width="5.68" height="1.30" fill="#3b6c89"/>
<rect x="444.63" y="268.55" width="5.68" height="1.30" fill="#3d7291"/>
<rect x="450.27" y="268.55" width="5.68" height="1.30" fill="#294250"/>
<rect x="455.90" y="268.55" width="5.68" height="1.30" fill="#828028"/>
<rect x="461.53" y="268.55" width="5.68" height="1.30" fill="#7e7b28"/>
<rect x="467.17" y="268.55" width="5.68" height="1.30" fill="#5d5d25"/>
<rect x="472.80" y="268.55" width="5.68" height="1.30" fill="#787627"/>
<rect x="478.43" y="268.55" width="5.68" height="1.30" fill="#1e272d"/>
<rect x="484.07" y="268.55" width="5.68" height="1.30" fill="#1d262b"/>
<rect x="422.10" y="269.80" width="5.68" height="1.29" fill="#3b3d22"/>
<rect x="427.73" y="269.80" width="5.68" height="1.29" fill="#383a22"/>
<rect x="433.37" y="269.80" width="5.68" height="1.29" fill="#1e272d"/>
<rect x="439.00" y="269.80" width="5.68" height="1.29" fill="#4b94bf"/>
<rect x="444.63" y="269.80" width="5.68" height="1.29" fill="#1d262b"/>
<rect x="450.27" y="269.80" width="5.68" height="1.29" fill="#363822"/>
<rect x="455.90" y="269.80" width="5.68" height="1.29" fill="#a9a42c"/>
<rect x="461.53" y="269.80" width="5.68" height="1.29" fill="#97932a"/>
<rect x="467.17" y="269.80" width="5.68" height="1.29" fill="#e6dc31"/>
<rect x="472.80" y="269.80" width="5.68" height="1.29" fill="#1a1f21"/>
<rect x="478.43" y="269.80" width="5.68" height="1.29" fill="#1c2429"/>
<rect x="484.07" y="269.80" width="5.68" height="1.29" fill="#1a1e21"/>
<rect x="422.10" y="271.04" width="5.68" height="1.29" fill="#1d262b"/>
<rect x="427.73" y="271.04" width="5.68" height="1.29" fill="#23343d"/>
<rect x="433.37" y="271.04" width="5.68" height="1.29" fill="#1c2326"/>
<rect x="439.00" y="271.04" width="5.68" height="1.29" fill="#488cb4"/>
<rect x="444.63" y="271.04" width="5.68" height="1.29" fill="#223139"/>
<rect x="450.27" y="271.04" width="5.68" height="1.29" fill="#28414f"/>
<rect x="455.90" y="271.04" width="5.68" height="1.29" fill="#888529"/>
<rect x="461.53" y="271.04" width="5.68" height="1.29" fill="#676626"/>
<rect x="467.17" y="271.04" width="5.68" height="1.29" fill="#545424"/>
<rect x="472.80" y="271.04" width="5.68" height="1.29" fill="#323422"/>
<rect x="478.43" y="271.04" width="5.68" height="1.29" fill="#283f4c"/>
<rect x="484.07" y="271.04" width="5.68" height="1.29" fill="#4e9bc8"/>
<rect x="422.10" y="272.29" width="5.68" height="1.29" fill="#2d3021"/>
<rect x="427.73" y="272.29" width="5.68" height="1.29" fill="#363822"/>
<rect x="433.37" y="272.29" width="5.68" height="1.29" fill="#1a1e20"/>
<rect x="439.00" y="272.29" width="5.68" height="1.29" fill="#4c97c2"/>
<rect x="444.63" y="272.29" width="5.68" height="1.29" fill="#1f2a30"/>
<rect x="450.27" y="272.29" width="5.68" height="1.29" fill="#595925"/>
<rect x="455.90" y="272.29" width="5.68" height="1.29" fill="#a8a22b"/>
<rect x="461.53" y="272.29" width="5.68" height="1.29" fill="#767427"/>
<rect x="467.17" y="272.29" width="5.68" height="1.29" fill="#96922a"/>
<rect x="472.80" y="272.29" width="5.68" height="1.29" fill="#1d252a"/>
<rect x="478.43" y="272.29" width="5.68" height="1.29" fill="#1f2b32"/>
<rect x="484.07" y="272.29" width="5.68" height="1.29" fill="#1b2225"/>
<rect x="422.10" y="273.53" width="5.68" height="1.29" fill="#2e3121"/>
<rect x="427.73" y="273.53" width="5.68" height="1.29" fill="#676626"/>
<rect x="433.37" y="273.53" width="5.68" height="1.29" fill="#253944"/>
<rect x="439.00" y="273.53" width="5.68" height="1.29" fill="#478ab1"/>
<rect x="444.63" y="273.53" width="5.68" height="1.29" fill="#1b2125"/>
<rect x="450.27" y="273.53" width="5.68" height="1.29" fill="#2e3121"/>
<rect x="455.90" y="273.53" width="5.68" height="1.29" fill="#8b8729"/>
<rect x="461.53" y="273.53" width="5.68" height="1.29" fill="#646326"/>
<rect x="467.17" y="273.53" width="5.68" height="1.29" fill="#c7bf2e"/>
<rect x="472.80" y="273.53" width="5.68" height="1.29" fill="#2e3121"/>
<rect x="478.43" y="273.53" width="5.68" height="1.29" fill="#335b72"/>
<rect x="484.07" y="273.53" width="5.68" height="1.29" fill="#31566b"/>
<rect x="422.10" y="274.77" width="5.68" height="1.29" fill="#1a2023"/>
<rect x="427.73" y="274.77" width="5.68" height="1.29" fill="#22333c"/>
<rect x="433.37" y="274.77" width="5.68" height="1.29" fill="#2b4858"/>
<rect x="439.00" y="274.77" width="5.68" height="1.29" fill="#4f9ecb"/>
<rect x="444.63" y="274.77" width="5.68" height="1.29" fill="#202d34"/>
<rect x="450.27" y="274.77" width="5.68" height="1.29" fill="#272a21"/>
<rect x="455.90" y="274.77" width="5.68" height="1.29" fill="#7c7928"/>
<rect x="461.53" y="274.77" width="5.68" height="1.29" fill="#878329"/>
<rect x="467.17" y="274.77" width="5.68" height="1.29" fill="#787627"/>
<rect x="472.80" y="274.77" width="5.68" height="1.29" fill="#1e282d"/>
<rect x="478.43" y="274.77" width="5.68" height="1.29" fill="#294251"/>
<rect x="484.07" y="274.77" width="5.68" height="1.29" fill="#2a4655"/>
<rect x="422.10" y="276.01" width="5.68" height="1.29" fill="#1e272c"/>
<rect x="427.73" y="276.01" width="5.68" height="1.29" fill="#1e282d"/>
<rect x="433.37" y="276.01" width="5.68" height="1.29" fill="#386782"/>
<rect x="439.00" y="276.01" width="5.68" height="1.29" fill="#498fb8"/>
<rect x="444.63" y="276.01" width="5.68" height="1.29" fill="#305266"/>
<rect x="450.27" y="276.01" width="5.68" height="1.29" fill="#1c2428"/>
<rect x="455.90" y="276.01" width="5.68" height="1.29" fill="#666526"/>
<rect x="461.53" y="276.01" width="5.68" height="1.29" fill="#2b2e21"/>
<rect x="467.17" y="276.01" width="5.68" height="1.29" fill="#9c972a"/>
<rect x="472.80" y="276.01" width="5.68" height="1.29" fill="#1b2023"/>
<rect x="478.43" y="276.01" width="5.68" height="1.29" fill="#355e76"/>
<rect x="484.07" y="276.01" width="5.68" height="1.29" fill="#2f5164"/>
<rect x="422.10" y="277.25" width="5.68" height="1.29" fill="#213039"/>
<rect x="427.73" y="277.25" width="5.68" height="1.29" fill="#1a2022"/>
<rect x="433.37" y="277.25" width="5.68" height="1.29" fill="#386680"/>
<rect x="439.00" y="277.25" width="5.68" height="1.29" fill="#509ecd"/>
<rect x="444.63" y="277.25" width="5.68" height="1.29" fill="#283f4c"/>
<rect x="450.27" y="277.25" width="5.68" height="1.29" fill="#202320"/>
<rect x="455.90" y="277.25" width="5.68" height="1.29" fill="#8e8a29"/>
<rect x="461.53" y="277.25" width="5.68" height="1.29" fill="#7e7b28"/>
<rect x="467.17" y="277.25" width="5.68" height="1.29" fill="#878429"/>
<rect x="472.80" y="277.25" width="5.68" height="1.29" fill="#1a1e20"/>
<rect x="478.43" y="277.25" width="5.68" height="1.29" fill="#1d262b"/>
<rect x="484.07" y="277.25" width="5.68" height="1.29" fill="#3f7696"/>
<rect x="422.10" y="278.50" width="5.68" height="1.29" fill="#575725"/>
<rect x="427.73" y="278.50" width="5.68" height="1.29" fill="#636226"/>
<rect x="433.37" y="278.50" width="5.68" height="1.29" fill="#494a23"/>
<rect x="439.00" y="278.50" width="5.68" height="1.29" fill="#1f2a31"/>
<rect x="444.63" y="278.50" width="5.68" height="1.29" fill="#1d2020"/>
<rect x="450.27" y="278.50" width="5.68" height="1.29" fill="#1e2220"/>
<rect x="455.90" y="278.50" width="5.68" height="1.29" fill="#f0e632"/>
<rect x="461.53" y="278.50" width="5.68" height="1.29" fill="#f0e632"/>
<rect x="467.17" y="278.50" width="5.68" height="1.29" fill="#f0e632"/>
<rect x="472.80" y="278.50" width="5.68" height="1.29" fill="#cfc72f"/>
<rect x="478.43" y="278.50" width="5.68" height="1.29" fill="#363822"/>
<rect x="484.07" y="278.50" width="5.68" height="1.29" fill="#1c2020"/>
<rect x="422.10" y="279.74" width="5.68" height="1.29" fill="#444523"/>
<rect x="427.73" y="279.74" width="5.68" height="1.29" fill="#666526"/>
<rect x="433.37" y="279.74" width="5.68" height="1.29" fill="#273d49"/>
<rect x="439.00" y="279.74" width="5.68" height="1.29" fill="#3e7393"/>
<rect x="444.63" y="279.74" width="5.68" height="1.29" fill="#3e7494"/>
<rect x="450.27" y="279.74" width="5.68" height="1.29" fill="#484923"/>
<rect x="455.90" y="279.74" width="5.68" height="1.29" fill="#b7b02d"/>
<rect x="461.53" y="279.74" width="5.68" height="1.29" fill="#c5be2e"/>
<rect x="467.17" y="279.74" width="5.68" height="1.29" fill="#f0e632"/>
<rect x="472.80" y="279.74" width="5.68" height="1.29" fill="#373922"/>
<rect x="478.43" y="279.74" width="5.68" height="1.29" fill="#23343d"/>
<rect x="484.07" y="279.74" width="5.68" height="1.29" fill="#2f5063"/>
<rect x="422.10" y="280.98" width="5.68" height="1.29" fill="#283f4d"/>
<rect x="427.73" y="280.98" width="5.68" height="1.29" fill="#1e292f"/>
<rect x="433.37" y="280.98" width="5.68" height="1.29" fill="#2d4d5f"/>
<rect x="439.00" y="280.98" width="5.68" height="1.29" fill="#4e9bc8"/>
<rect x="444.63" y="280.98" width="5.68" height="1.29" fill="#305266"/>
<rect x="450.27" y="280.98" width="5.68" height="1.29" fill="#1c2327"/>
<rect x="455.90" y="280.98" width="5.68" height="1.29" fill="#8f8b29"/>
<rect x="461.53" y="280.98" width="5.68" height="1.29" fill="#585825"/>
<rect x="467.17" y="280.98" width="5.68" height="1.29" fill="#a19c2b"/>
<rect x="472.80" y="280.98" width="5.68" height="1.29" fill="#23343e"/>
<rect x="478.43" y="280.98" width="5.68" height="1.29" fill="#417b9d"/>
<rect x="484.07" y="280.98" width="5.68" height="1.29" fill="#2e4f62"/>
<rect x="422.10" y="282.23" width="5.68" height="1.29" fill="#1d262b"/>
<rect x="427.73" y="282.23" width="5.68" height="1.29" fill="#404223"/>
<rect x="433.37" y="282.23" width="5.68" height="1.29" fill="#1c2429"/>
<rect x="439.00" y="282.23" width="5.68" height="1.29" fill="#51a1cf"/>
<rect x="444.63" y="282.23" width="5.68" height="1.29" fill="#343622"/>
<rect x="450.27" y="282.23" width="5.68" height="1.29" fill="#282b21"/>
<rect x="455.90" y="282.23" width="5.68" height="1.29" fill="#d4cb2f"/>
<rect x="461.53" y="282.23" width="5.68" height="1.29" fill="#97932a"/>
<rect x="467.17" y="282.23" width="5.68" height="1.29" fill="#b8b12d"/>
<rect x="472.80" y="282.23" width="5.68" height="1.29" fill="#23333d"/>
<rect x="478.43" y="282.23" width="5.68" height="1.29" fill="#1c2428"/>
<rect x="484.07" y="282.23" width="5.68" height="1.29" fill="#2e4f62"/>
<rect x="422.10" y="283.47" width="5.68" height="1.29" fill="#1a1e20"/>
<rect x="427.73" y="283.47" width="5.68" height="1.29" fill="#1e282e"/>
<rect x="433.37" y="283.47" width="5.68" height="1.29" fill="#212f37"/>
<rect x="439.00" y="283.47" width="5.68" height="1.29" fill="#4c97c2"/>
<rect x="444.63" y="283.47" width="5.68" height="1.29" fill="#28404d"/>
<rect x="450.27" y="283.47" width="5.68" height="1.29" fill="#345d75"/>
<rect x="455.90" y="283.47" width="5.68" height="1.29" fill="#848128"/>
<rect x="461.53" y="283.47" width="5.68" height="1.29" fill="#8b8729"/>
<rect x="467.17" y="283.47" width="5.68" height="1.29" fill="#d1c92f"/>
<rect x="472.80" y="283.47" width="5.68" height="1.29" fill="#1f2b32"/>
<rect x="478.43" y="283.47" width="5.68" height="1.29" fill="#2f5164"/>
<rect x="484.07" y="283.47" width="5.68" height="1.29" fill="#273d4a"/>
<rect x="422.10" y="284.71" width="5.68" height="1.29" fill="#242720"/>
<rect x="427.73" y="284.71" width="5.68" height="1.29" fill="#383a22"/>
<rect x="433.37" y="284.71" width="5.68" height="1.29" fill="#283f4c"/>
<rect x="439.00" y="284.71" width="5.68" height="1.29" fill="#3b6d8b"/>
<rect x="444.63" y="284.71" width="5.68" height="1.29" fill="#2f5165"/>
<rect x="450.27" y="284.71" width="5.68" height="1.29" fill="#1d262b"/>
<rect x="455.90" y="284.71" width="5.68" height="1.29" fill="#8f8b29"/>
<rect x="461.53" y="284.71" width="5.68" height="1.29" fill="#757327"/>
<rect x="467.17" y="284.71" width="5.68" height="1.29" fill="#c7c02e"/>
<rect x="472.80" y="284.71" width="5.68" height="1.29" fill="#5a5a25"/>
<rect x="478.43" y="284.71" width="5.68" height="1.29" fill="#356078"/>
<rect x="484.07" y="284.71" width="5.68" height="1.29" fill="#3e7595"/>
<rect x="422.10" y="285.95" width="5.68" height="1.29" fill="#1e282d"/>
<rect x="427.73" y="285.95" width="5.68" height="1.29" fill="#2f3121"/>
<rect x="433.37" y="285.95" width="5.68" height="1.29" fill="#1a1f22"/>
<rect x="439.00" y="285.95" width="5.68" height="1.29" fill="#427da0"/>
<rect x="444.63" y="285.95" width="5.68" height="1.29" fill="#1b2023"/>
<rect x="450.27" y="285.95" width="5.68" height="1.29" fill="#253a45"/>
<rect x="455.90" y="285.95" width="5.68" height="1.29" fill="#d0c82f"/>
<rect x="461.53" y="285.95" width="5.68" height="1.29" fill="#5a5925"/>
<rect x="467.17" y="285.95" width="5.68" height="1.29" fill="#a49f2b"/>
<rect x="472.80" y="285.95" width="5.68" height="1.29" fill="#1a1e20"/>
<rect x="478.43" y="285.95" width="5.68" height="1.29" fill="#294251"/>
<rect x="484.07" y="285.95" width="5.68" height="1.29" fill="#263a46"/>
<rect x="422.10" y="287.19" width="5.68" height="1.29" fill="#1c2327"/>
<rect x="427.73" y="287.19" width="5.68" height="1.29" fill="#222620"/>
<rect x="433.37" y="287.19" width="5.68" height="1.29" fill="#262921"/>
<rect x="439.00" y="287.19" width="5.68" height="1.29" fill="#4482a6"/>
<rect x="444.63" y="287.19" width="5.68" height="1.29" fill="#202d34"/>
<rect x="450.27" y="287.19" width="5.68" height="1.29" fill="#383a22"/>
<rect x="455.90" y="287.19" width="5.68" height="1.29" fill="#aca62c"/>
<rect x="461.53" y="287.19" width="5.68" height="1.29" fill="#535324"/>
<rect x="467.17" y="287.19" width="5.68" height="1.29" fill="#f0e632"/>
<rect x="472.80" y="287.19" width="5.68" height="1.29" fill="#636226"/>
<rect x="478.43" y="287.19" width="5.68" height="1.29" fill="#3f7697"/>
<rect x="484.07" y="287.19" width="5.68" height="1.29" fill="#345b73"/>
<rect x="422.10" y="288.44" width="5.68" height="1.29" fill="#454623"/>
<rect x="427.73" y="288.44" width="5.68" height="1.29" fill="#313421"/>
<rect x="433.37" y="288.44" width="5.68" height="1.29" fill="#23333d"/>
<rect x="439.00" y="288.44" width="5.68" height="1.29" fill="#4b94bf"/>
<rect x="444.63" y="288.44" width="5.68" height="1.29" fill="#1f2b31"/>
<rect x="450.27" y="288.44" width="5.68" height="1.29" fill="#3d3f22"/>
<rect x="455.90" y="288.44" width="5.68" height="1.29" fill="#878429"/>
<rect x="461.53" y="288.44" width="5.68" height="1.29" fill="#696826"/>
<rect x="467.17" y="288.44" width="5.68" height="1.29" fill="#bab42d"/>
<rect x="472.80" y="288.44" width="5.68" height="1.29" fill="#273e4b"/>
<rect x="478.43" y="288.44" width="5.68" height="1.29" fill="#29414f"/>
<rect x="484.07" y="288.44" width="5.68" height="1.29" fill="#345c74"/>
<rect x="422.10" y="289.68" width="5.68" height="1.29" fill="#1b2125"/>
<rect x="427.73" y="289.68" width="5.68" height="1.29" fill="#1f2c32"/>
<rect x="433.37" y="289.68" width="5.68" height="1.29" fill="#23353f"/>
<rect x="439.00" y="289.68" width="5.68" height="1.29" fill="#40789a"/>
<rect x="444.63" y="289.68" width="5.68" height="1.29" fill="#263b48"/>
<rect x="450.27" y="289.68" width="5.68" height="1.29" fill="#1f2220"/>
<rect x="455.90" y="289.68" width="5.68" height="1.29" fill="#cec62f"/>
<rect x="461.53" y="289.68" width="5.68" height="1.29" fill="#bcb52d"/>
<rect x="467.17" y="289.68" width="5.68" height="1.29" fill="#f0e632"/>
<rect x="472.80" y="289.68" width="5.68" height="1.29" fill="#1c2327"/>
<rect x="478.43" y="289.68" width="5.68" height="1.29" fill="#2a4453"/>
<rect x="484.07" y="289.68" width="5.68" height="1.29" fill="#4a91ba"/>
<rect x="422.10" y="290.92" width="5.68" height="1.29" fill="#424423"/>
<rect x="427.73" y="290.92" width="5.68" height="1.29" fill="#505024"/>
<rect x="433.37" y="290.92" width="5.68" height="1.29" fill="#444523"/>
<rect x="439.00" y="290.92" width="5.68" height="1.29" fill="#3d7190"/>
<rect x="444.63" y="290.92" width="5.68" height="1.29" fill="#424323"/>
<rect x="450.27" y="290.92" width="5.68" height="1.29" fill="#505024"/>
<rect x="455.90" y="290.92" width="5.68" height="1.29" fill="#a8a32b"/>
<rect x="461.53" y="290.92" width="5.68" height="1.29" fill="#d6cd2f"/>
<rect x="467.17" y="290.92" width="5.68" height="1.29" fill="#f0e632"/>
<rect x="472.80" y="290.92" width="5.68" height="1.29" fill="#1f2220"/>
<rect x="478.43" y="290.92" width="5.68" height="1.29" fill="#393b22"/>
<rect x="484.07" y="290.92" width="5.68" height="1.29" fill="#1d262b"/>
<rect x="422.10" y="292.17" width="5.68" height="1.29" fill="#363822"/>
<rect x="427.73" y="292.17" width="5.68" height="1.29" fill="#484923"/>
<rect x="433.37" y="292.17" width="5.68" height="1.29" fill="#223139"/>
<rect x="439.00" y="292.17" width="5.68" height="1.29" fill="#356078"/>
<rect x="444.63" y="292.17" width="5.68" height="1.29" fill="#23353f"/>
<rect x="450.27" y="292.17" width="5.68" height="1.29" fill="#353722"/>
<rect x="455.90" y="292.17" width="5.68" height="1.29" fill="#94902a"/>
<rect x="461.53" y="292.17" width="5.68" height="1.29" fill="#8c8929"/>
<rect x="467.17" y="292.17" width="5.68" height="1.29" fill="#f0e632"/>
<rect x="472.80" y="292.17" width="5.68" height="1.29" fill="#363822"/>
<rect x="478.43" y="292.17" width="5.68" height="1.29" fill="#273d4a"/>
<rect x="484.07" y="292.17" width="5.68" height="1.29" fill="#3b6d8a"/>
<rect x="422.10" y="293.41" width="5.68" height="1.29" fill="#1f2b32"/>
<rect x="427.73" y="293.41" width="5.68" height="1.29" fill="#1b2225"/>
<rect x="433.37" y="293.41" width="5.68" height="1.29" fill="#294250"/>
<rect x="439.00" y="293.41" width="5.68" height="1.29" fill="#498db5"/>
<rect x="444.63" y="293.41" width="5.68" height="1.29" fill="#2e4d60"/>
<rect x="450.27" y="293.41" width="5.68" height="1.29" fill="#1e2220"/>
<rect x="455.90" y="293.41" width="5.68" height="1.29" fill="#716f27"/>
<rect x="461.53" y="293.41" width="5.68" height="1.29" fill="#4c4c24"/>
<rect x="467.17" y="293.41" width="5.68" height="1.29" fill="#aba62c"/>
<rect x="472.80" y="293.41" width="5.68" height="1.29" fill="#202e35"/>
<rect x="478.43" y="293.41" width="5.68" height="1.29" fill="#37637c"/>
<rect x="484.07" y="293.41" width="5.68" height="1.29" fill="#4482a7"/>
<rect x="422.10" y="294.65" width="5.68" height="1.29" fill="#232620"/>
<rect x="427.73" y="294.65" width="5.68" height="1.29" fill="#1b2225"/>
<rect x="433.37" y="294.65" width="5.68" height="1.29" fill="#345c73"/>
<rect x="439.00" y="294.65" width="5.68" height="1.29" fill="#4380a4"/>
<rect x="444.63" y="294.65" width="5.68" height="1.29" fill="#253a45"/>
<rect x="450.27" y="294.65" width="5.68" height="1.29" fill="#28404e"/>
<rect x="455.90" y="294.65" width="5.68" height="1.29" fill="#b1ab2c"/>
<rect x="461.53" y="294.65" width="5.68" height="1.29" fill="#696826"/>
<rect x="467.17" y="294.65" width="5.68" height="1.29" fill="#938f2a"/>
<rect x="472.80" y="294.65" width="5.68" height="1.29" fill="#282b21"/>
<rect x="478.43" y="294.65" width="5.68" height="1.29" fill="#202d35"/>
<rect x="484.07" y="294.65" width="5.68" height="1.29" fill="#3f7696"/>
<rect x="422.10" y="295.89" width="5.68" height="1.29" fill="#1d252a"/>
<rect x="427.73" y="295.89" width="5.68" height="1.29" fill="#6a6926"/>
<rect x="433.37" y="295.89" width="5.68" height="1.29" fill="#253843"/>
<rect x="439.00" y="295.89" width="5.68" height="1.29" fill="#32596f"/>
<rect x="444.63" y="295.89" width="5.68" height="1.29" fill="#263b48"/>
<rect x="450.27" y="295.89" width="5.68" height="1.29" fill="#373922"/>
<rect x="455.90" y="295.89" width="5.68" height="1.29" fill="#f0e632"/>
<rect x="461.53" y="295.89" width="5.68" height="1.29" fill="#363822"/>
<rect x="467.17" y="295.89" width="5.68" height="1.29" fill="#aca62c"/>
<rect x="472.80" y="295.89" width="5.68" height="1.29" fill="#363822"/>
<rect x="478.43" y="295.89" width="5.68" height="1.29" fill="#273d49"/>
<rect x="484.07" y="295.89" width="5.68" height="1.29" fill="#36627b"/>
<rect x="422.10" y="297.13" width="5.68" height="1.29" fill="#686726"/>
<rect x="427.73" y="297.13" width="5.68" height="1.29" fill="#242820"/>
<rect x="433.37" y="297.13" width="5.68" height="1.29" fill="#585825"/>
<rect x="439.00" y="297.13" width="5.68" height="1.29" fill="#3e7493"/>
<rect x="444.63" y="297.13" width="5.68" height="1.29" fill="#636226"/>
<rect x="450.27" y="297.13" width="5.68" height="1.29" fill="#464823"/>
<rect x="455.90" y="297.13" width="5.68" height="1.29" fill="#f0e632"/>
<rect x="461.53" y="297.13" width="5.68" height="1.29" fill="#f0e632"/>
<rect x="467.17" y="297.13" width="5.68" height="1.29" fill="#f0e632"/>
<rect x="472.80" y="297.13" width="5.68" height="1.29" fill="#363822"/>
<rect x="478.43" y="297.13" width="5.68" height="1.29" fill="#243641"/>
<rect x="484.07" y="297.13" width="5.68" height="1.29" fill="#313321"/>
<rect x="422.10" y="298.38" width="5.68" height="1.29" fill="#1a1e20"/>
<rect x="427.73" y="298.38" width="5.68" height="1.29" fill="#434423"/>
<rect x="433.37" y="298.38" width="5.68" height="1.29" fill="#1c2020"/>
<rect x="439.00" y="298.38" width="5.68" height="1.29" fill="#355e76"/>
<rect x="444.63" y="298.38" width="5.68" height="1.29" fill="#335b72"/>
<rect x="450.27" y="298.38" width="5.68" height="1.29" fill="#1f2220"/>
<rect x="455.90" y="298.38" width="5.68" height="1.29" fill="#e0d730"/>
<rect x="461.53" y="298.38" width="5.68" height="1.29" fill="#b6b02d"/>
<rect x="467.17" y="298.38" width="5.68" height="1.29" fill="#eae131"/>
<rect x="472.80" y="298.38" width="5.68" height="1.29" fill="#294250"/>
<rect x="478.43" y="298.38" width="5.68" height="1.29" fill="#212f37"/>
<rect x="484.07" y="298.38" width="5.68" height="1.29" fill="#273c49"/>
<rect x="422.10" y="299.62" width="5.68" height="1.29" fill="#535324"/>
<rect x="427.73" y="299.62" width="5.68" height="1.29" fill="#5e5e25"/>
<rect x="433.37" y="299.62" width="5.68" height="1.29" fill="#4b4c24"/>
<rect x="439.00" y="299.62" width="5.68" height="1.29" fill="#1e292f"/>
<rect x="444.63" y="299.62" width="5.68" height="1.29" fill="#3b3d22"/>
<rect x="450.27" y="299.62" width="5.68" height="1.29" fill="#938f2a"/>
<rect x="455.90" y="299.62" width="5.68" height="1.29" fill="#ebe131"/>
<rect x="461.53" y="299.62" width="5.68" height="1.29" fill="#f0e632"/>
<rect x="467.17" y="299.62" width="5.68" height="1.29" fill="#f0e632"/>
<rect x="472.80" y="299.62" width="5.68" height="1.29" fill="#7a7828"/>
<rect x="478.43" y="299.62" width="5.68" height="1.29" fill="#212420"/>
<rect x="484.07" y="299.62" width="5.68" height="1.29" fill="#283f4d"/>
<rect x="422.10" y="300.86" width="5.68" height="1.29" fill="#474823"/>
<rect x="427.73" y="300.86" width="5.68" height="1.29" fill="#222620"/>
<rect x="433.37" y="300.86" width="5.68" height="1.29" fill="#1e2220"/>
<rect x="439.00" y="300.86" width="5.68" height="1.29" fill="#2d4c5e"/>
<rect x="444.63" y="300.86" width="5.68" height="1.29" fill="#22323c"/>
<rect x="450.27" y="300.86" width="5.68" height="1.29" fill="#303221"/>
<rect x="455.90" y="300.86" width="5.68" height="1.29" fill="#e0d730"/>
<rect x="461.53" y="300.86" width="5.68" height="1.29" fill="#bdb62d"/>
<rect x="467.17" y="300.86" width="5.68" height="1.29" fill="#cac32e"/>
<rect x="472.80" y="300.86" width="5.68" height="1.29" fill="#213039"/>
<rect x="478.43" y="300.86" width="5.68" height="1.29" fill="#2b2e21"/>
<rect x="484.07" y="300.86" width="5.68" height="1.29" fill="#243742"/>
<rect x="422.10" y="302.11" width="5.68" height="1.29" fill="#1c2226"/>
<rect x="427.73" y="302.11" width="5.68" height="1.29" fill="#1a1e20"/>
<rect x="433.37" y="302.11" width="5.68" height="1.29" fill="#29414f"/>
<rect x="439.00" y="302.11" width="5.68" height="1.29" fill="#509fce"/>
<rect x="444.63" y="302.11" width="5.68" height="1.29" fill="#2c495a"/>
<rect x="450.27" y="302.11" width="5.68" height="1.29" fill="#213038"/>
<rect x="455.90" y="302.11" width="5.68" height="1.29" fill="#898529"/>
<rect x="461.53" y="302.11" width="5.68" height="1.29" fill="#555524"/>
<rect x="467.17" y="302.11" width="5.68" height="1.29" fill="#c3bc2e"/>
<rect x="472.80" y="302.11" width="5.68" height="1.29" fill="#253945"/>
<rect x="478.43" y="302.11" width="5.68" height="1.29" fill="#243640"/>
<rect x="484.07" y="302.11" width="5.68" height="1.29" fill="#3f7797"/>
<rect x="422.10" y="303.35" width="5.68" height="1.29" fill="#505124"/>
<rect x="427.73" y="303.35" width="5.68" height="1.29" fill="#212420"/>
<rect x="433.37" y="303.35" width="5.68" height="1.29" fill="#28404d"/>
<rect x="439.00" y="303.35" width="5.68" height="1.29" fill="#40799a"/>
<rect x="444.63" y="303.35" width="5.68" height="1.29" fill="#1f2b32"/>
<rect x="450.27" y="303.35" width="5.68" height="1.29" fill="#294250"/>
<rect x="455.90" y="303.35" width="5.68" height="1.29" fill="#96922a"/>
<rect x="461.53" y="303.35" width="5.68" height="1.29" fill="#918e2a"/>
<rect x="467.17" y="303.35" width="5.68" height="1.29" fill="#a7a22b"/>
<rect x="472.80" y="303.35" width="5.68" height="1.29" fill="#262921"/>
<rect x="478.43" y="303.35" width="5.68" height="1.29" fill="#1f2c32"/>
<rect x="484.07" y="303.35" width="5.68" height="1.29" fill="#28404e"/>
<rect x="422.10" y="304.59" width="5.68" height="1.29" fill="#4a4b24"/>
<rect x="427.73" y="304.59" width="5.68" height="1.29" fill="#242720"/>
<rect x="433.37" y="304.59" width="5.68" height="1.29" fill="#1b2225"/>
<rect x="439.00" y="304.59" width="5.68" height="1.29" fill="#3d7190"/>
<rect x="444.63" y="304.59" width="5.68" height="1.29" fill="#1e282e"/>
<rect x="450.27" y="304.59" width="5.68" height="1.29" fill="#272b21"/>
<rect x="455.90" y="304.59" width="5.68" height="1.29" fill="#848128"/>
<rect x="461.53" y="304.59" width="5.68" height="1.29" fill="#95912a"/>
<rect x="467.17" y="304.59" width="5.68" height="1.29" fill="#cfc72f"/>
<rect x="472.80" y="304.59" width="5.68" height="1.29" fill="#1a1e20"/>
<rect x="478.43" y="304.59" width="5.68" height="1.29" fill="#212f37"/>
<rect x="484.07" y="304.59" width="5.68" height="1.29" fill="#253843"/>
<rect x="422.10" y="305.83" width="5.68" height="1.29" fill="#555525"/>
<rect x="427.73" y="305.83" width="5.68" height="1.29" fill="#386681"/>
<rect x="433.37" y="305.83" width="5.68" height="1.29" fill="#28414f"/>
<rect x="439.00" y="305.83" width="5.68" height="1.29" fill="#5ab6ec"/>
<rect x="444.63" y="305.83" width="5.68" height="1.29" fill="#1d252a"/>
<rect x="450.27" y="305.83" width="5.68" height="1.29" fill="#5f5e25"/>
<rect x="455.90" y="305.83" width="5.68" height="1.29" fill="#3f4123"/>
<rect x="461.53" y="305.83" width="5.68" height="1.29" fill="#7b7928"/>
<rect x="467.17" y="305.83" width="5.68" height="1.29" fill="#b7b12d"/>
<rect x="472.80" y="305.83" width="5.68" height="1.29" fill="#1d272c"/>
<rect x="478.43" y="305.83" width="5.68" height="1.29" fill="#273d4a"/>
<rect x="484.07" y="305.83" width="5.68" height="1.29" fill="#4f9dca"/>
<rect x="422.10" y="307.07" width="5.68" height="1.29" fill="#414223"/>
<rect x="427.73" y="307.07" width="5.68" height="1.29" fill="#2c2f21"/>
<rect x="433.37" y="307.07" width="5.68" height="1.29" fill="#212f38"/>
<rect x="439.00" y="307.07" width="5.68" height="1.29" fill="#345b72"/>
<rect x="444.63" y="307.07" width="5.68" height="1.29" fill="#202d35"/>
<rect x="450.27" y="307.07" width="5.68" height="1.29" fill="#323522"/>
<rect x="455.90" y="307.07" width="5.68" height="1.29" fill="#aea92c"/>
<rect x="461.53" y="307.07" width="5.68" height="1.29" fill="#4f4f24"/>
<rect x="467.17" y="307.07" width="5.68" height="1.29" fill="#ccc42f"/>
<rect x="472.80" y="307.07" width="5.68" height="1.29" fill="#3b3d22"/>
<rect x="478.43" y="307.07" width="5.68" height="1.29" fill="#1a2023"/>
<rect x="484.07" y="307.07" width="5.68" height="1.29" fill="#345b72"/>
<rect x="422.10" y="308.32" width="5.68" height="1.29" fill="#2a2d21"/>
<rect x="427.73" y="308.32" width="5.68" height="1.29" fill="#1b2124"/>
<rect x="433.37" y="308.32" width="5.68" height="1.29" fill="#1a1e20"/>
<rect x="439.00" y="308.32" width="5.68" height="1.29" fill="#2f5265"/>
<rect x="444.63" y="308.32" width="5.68" height="1.29" fill="#2e4e61"/>
<rect x="450.27" y="308.32" width="5.68" height="1.29" fill="#2f5164"/>
<rect x="455.90" y="308.32" width="5.68" height="1.29" fill="#beb72d"/>
<rect x="461.53" y="308.32" width="5.68" height="1.29" fill="#b5ae2d"/>
<rect x="467.17" y="308.32" width="5.68" height="1.29" fill="#ccc42e"/>
<rect x="472.80" y="308.32" width="5.68" height="1.29" fill="#303221"/>
<rect x="478.43" y="308.32" width="5.68" height="1.29" fill="#31566c"/>
<rect x="484.07" y="308.32" width="5.68" height="1.29" fill="#3c708e"/>
<rect x="422.10" y="309.56" width="5.68" height="1.29" fill="#1b1f20"/>
<rect x="427.73" y="309.56" width="5.68" height="1.29" fill="#243640"/>
<rect x="433.37" y="309.56" width="5.68" height="1.29" fill="#253843"/>
<rect x="439.00" y="309.56" width="5.68" height="1.29" fill="#202d35"/>
<rect x="444.63" y="309.56" width="5.68" height="1.29" fill="#4e4e24"/>
<rect x="450.27" y="309.56" width="5.68" height="1.29" fill="#1a1e20"/>
<rect x="455.90" y="309.56" width="5.68" height="1.29" fill="#a8a22b"/>
<rect x="461.53" y="309.56" width="5.68" height="1.29" fill="#aaa42c"/>
<rect x="467.17" y="309.56" width="5.68" height="1.29" fill="#b2ac2c"/>
<rect x="472.80" y="309.56" width="5.68" height="1.29" fill="#626226"/>
<rect x="478.43" y="309.56" width="5.68" height="1.29" fill="#223139"/>
<rect x="484.07" y="309.56" width="5.68" height="1.29" fill="#356078"/>
<rect x="422.10" y="310.80" width="5.68" height="1.29" fill="#323422"/>
<rect x="427.73" y="310.80" width="5.68" height="1.29" fill="#424423"/>
<rect x="433.37" y="310.80" width="5.68" height="1.29" fill="#1f2220"/>
<rect x="439.00" y="310.80" width="5.68" height="1.29" fill="#386782"/>
<rect x="444.63" y="310.80" width="5.68" height="1.29" fill="#282c21"/>
<rect x="450.27" y="310.80" width="5.68" height="1.29" fill="#252820"/>
<rect x="455.90" y="310.80" width="5.68" height="1.29" fill="#8f8c29"/>
<rect x="461.53" y="310.80" width="5.68" height="1.29" fill="#616126"/>
<rect x="467.17" y="310.80" width="5.68" height="1.29" fill="#b0aa2c"/>
<rect x="472.80" y="310.80" width="5.68" height="1.29" fill="#2c2f21"/>
<rect x="478.43" y="310.80" width="5.68" height="1.29" fill="#1d252a"/>
<rect x="484.07" y="310.80" width="5.68" height="1.29" fill="#253843"/>
<rect x="422.10" y="312.05" width="5.68" height="1.29" fill="#2e3121"/>
<rect x="427.73" y="312.05" width="5.68" height="1.29" fill="#1e272c"/>
<rect x="433.37" y="312.05" width="5.68" height="1.29" fill="#253a45"/>
<rect x="439.00" y="312.05" width="5.68" height="1.29" fill="#56ade0"/>
<rect x="444.63" y="312.05" width="5.68" height="1.29" fill="#202d35"/>
<rect x="450.27" y="312.05" width="5.68" height="1.29" fill="#303321"/>
<rect x="455.90" y="312.05" width="5.68" height="1.29" fill="#cac22e"/>
<rect x="461.53" y="312.05" width="5.68" height="1.29" fill="#8f8b29"/>
<rect x="467.17" y="312.05" width="5.68" height="1.29" fill="#bab42d"/>
<rect x="472.80" y="312.05" width="5.68" height="1.29" fill="#494a23"/>
<rect x="478.43" y="312.05" width="5.68" height="1.29" fill="#243742"/>
<rect x="484.07" y="312.05" width="5.68" height="1.29" fill="#263b48"/>
<rect x="422.10" y="313.29" width="5.68" height="1.29" fill="#323522"/>
<rect x="427.73" y="313.29" width="5.68" height="1.29" fill="#4c4d24"/>
<rect x="433.37" y="313.29" width="5.68" height="1.29" fill="#243640"/>
<rect x="439.00" y="313.29" width="5.68" height="1.29" fill="#427d9f"/>
<rect x="444.63" y="313.29" width="5.68" height="1.29" fill="#263b48"/>
<rect x="450.27" y="313.29" width="5.68" height="1.29" fill="#1d272c"/>
<rect x="455.90" y="313.29" width="5.68" height="1.29" fill="#f0e632"/>
<rect x="461.53" y="313.29" width="5.68" height="1.29" fill="#d7cf2f"/>
<rect x="467.17" y="313.29" width="5.68" height="1.29" fill="#c3bc2e"/>
<rect x="472.80" y="313.29" width="5.68" height="1.29" fill="#3e3f23"/>
<rect x="478.43" y="313.29" width="5.68" height="1.29" fill="#1a1e20"/>
<rect x="484.07" y="313.29" width="5.68" height="1.29" fill="#253945"/>
<rect x="422.10" y="314.53" width="5.68" height="1.29" fill="#1b1f20"/>
<rect x="427.73" y="314.53" width="5.68" height="1.29" fill="#232720"/>
<rect x="433.37" y="314.53" width="5.68" height="1.29" fill="#292c21"/>
<rect x="439.00" y="314.53" width="5.68" height="1.29" fill="#273e4b"/>
<rect x="444.63" y="314.53" width="5.68" height="1.29" fill="#1f2220"/>
<rect x="450.27" y="314.53" width="5.68" height="1.29" fill="#1d2120"/>
<rect x="455.90" y="314.53" width="5.68" height="1.29" fill="#c3bc2e"/>
<rect x="461.53" y="314.53" width="5.68" height="1.29" fill="#95912a"/>
<rect x="467.17" y="314.53" width="5.68" height="1.29" fill="#bbb52d"/>
<rect x="472.80" y="314.53" width="5.68" height="1.29" fill="#767427"/>
<rect x="478.43" y="314.53" width="5.68" height="1.29" fill="#243540"/>
<rect x="484.07" y="314.53" width="5.68" height="1.29" fill="#263c48"/>
<rect x="422.10" y="315.77" width="5.68" height="1.29" fill="#908c29"/>
<rect x="427.73" y="315.77" width="5.68" height="1.29" fill="#666526"/>
<rect x="433.37" y="315.77" width="5.68" height="1.29" fill="#282b21"/>
<rect x="439.00" y="315.77" width="5.68" height="1.29" fill="#273e4b"/>
<rect x="444.63" y="315.77" width="5.68" height="1.29" fill="#747227"/>
<rect x="450.27" y="315.77" width="5.68" height="1.29" fill="#716f27"/>
<rect x="455.90" y="315.77" width="5.68" height="1.29" fill="#f0e632"/>
<rect x="461.53" y="315.77" width="5.68" height="1.29" fill="#d9d130"/>
<rect x="467.17" y="315.77" width="5.68" height="1.29" fill="#f0e632"/>
<rect x="472.80" y="315.77" width="5.68" height="1.29" fill="#5e5e25"/>
<rect x="478.43" y="315.77" width="5.68" height="1.29" fill="#363822"/>
<rect x="484.07" y="315.77" width="5.68" height="1.29" fill="#353722"/>
<rect x="422.10" y="317.01" width="5.68" height="1.29" fill="#29414f"/>
<rect x="427.73" y="317.01" width="5.68" height="1.29" fill="#29414f"/>
<rect x="433.37" y="317.01" width="5.68" height="1.29" fill="#3b6d8a"/>
<rect x="439.00" y="317.01" width="5.68" height="1.29" fill="#5ab6ec"/>
<rect x="444.63" y="317.01" width="5.68" height="1.29" fill="#2c4a5b"/>
<rect x="450.27" y="317.01" width="5.68" height="1.29" fill="#1d2120"/>
<rect x="455.90" y="317.01" width="5.68" height="1.29" fill="#7d7a28"/>
<rect x="461.53" y="317.01" width="5.68" height="1.29" fill="#525224"/>
<rect x="467.17" y="317.01" width="5.68" height="1.29" fill="#3b3d22"/>
<rect x="472.80" y="317.01" width="5.68" height="1.29" fill="#232720"/>
<rect x="478.43" y="317.01" width="5.68" height="1.29" fill="#3a6b88"/>
<rect x="484.07" y="317.01" width="5.68" height="1.29" fill="#4686ac"/>
<rect x="422.10" y="318.26" width="5.68" height="1.29" fill="#253944"/>
<rect x="427.73" y="318.26" width="5.68" height="1.29" fill="#335a71"/>
<rect x="433.37" y="318.26" width="5.68" height="1.29" fill="#305368"/>
<rect x="439.00" y="318.26" width="5.68" height="1.29" fill="#4d98c4"/>
<rect x="444.63" y="318.26" width="5.68" height="1.29" fill="#315469"/>
<rect x="450.27" y="318.26" width="5.68" height="1.29" fill="#253843"/>
<rect x="455.90" y="318.26" width="5.68" height="1.29" fill="#545424"/>
<rect x="461.53" y="318.26" width="5.68" height="1.29" fill="#858229"/>
<rect x="467.17" y="318.26" width="5.68" height="1.29" fill="#666526"/>
<rect x="472.80" y="318.26" width="5.68" height="1.29" fill="#37657f"/>
<rect x="478.43" y="318.26" width="5.68" height="1.29" fill="#396985"/>
<rect x="484.07" y="318.26" width="5.68" height="1.29" fill="#4a91ba"/>
<rect x="422.10" y="319.50" width="5.68" height="1.33" fill="#4a4b24"/>
<rect x="427.73" y="319.50" width="5.68" height="1.33" fill="#606025"/>
<rect x="433.37" y="319.50" width="5.68" height="1.33" fill="#1d2120"/>
<rect x="439.00" y="319.50" width="5.68" height="1.33" fill="#3e7595"/>
<rect x="444.63" y="319.50" width="5.68" height="1.33" fill="#213038"/>
<rect x="450.27" y="319.50" width="5.68" height="1.33" fill="#1d262a"/>
<rect x="455.90" y="319.50" width="5.68" height="1.33" fill="#292c21"/>
<rect x="461.53" y="319.50" width="5.68" height="1.33" fill="#3c3e22"/>
<rect x="467.17" y="319.50" width="5.68" height="1.33" fill="#1a1e20"/>
<rect x="472.80" y="319.50" width="5.68" height="1.33" fill="#4483a7"/>
<rect x="478.43" y="319.50" width="5.68" height="1.33" fill="#386681"/>
<rect x="484.07" y="319.50" width="5.68" height="1.33" fill="#4584a9"/>
<rect x="422.10" y="320.78" width="5.68" height="1.33" fill="#242720"/>
<rect x="427.73" y="320.78" width="5.68" height="1.33" fill="#1d272c"/>
<rect x="433.37" y="320.78" width="5.68" height="1.33" fill="#262921"/>
<rect x="439.00" y="320.78" width="5.68" height="1.33" fill="#55aadd"/>
<rect x="444.63" y="320.78" width="5.68" height="1.33" fill="#3f7596"/>
<rect x="450.27" y="320.78" width="5.68" height="1.33" fill="#1d262b"/>
<rect x="455.90" y="320.78" width="5.68" height="1.33" fill="#2b4757"/>
<rect x="461.53" y="320.78" width="5.68" height="1.33" fill="#29414f"/>
<rect x="467.17" y="320.78" width="5.68" height="1.33" fill="#355f78"/>
<rect x="472.80" y="320.78" width="5.68" height="1.33" fill="#5ab6ec"/>
<rect x="478.43" y="320.78" width="5.68" height="1.33" fill="#5ab6ec"/>
<rect x="484.07" y="320.78" width="5.68" height="1.33" fill="#51a0cf"/>
<rect x="422.10" y="322.06" width="5.68" height="1.33" fill="#262921"/>
<rect x="427.73" y="322.06" width="5.68" height="1.33" fill="#323522"/>
<rect x="433.37" y="322.06" width="5.68" height="1.33" fill="#656426"/>
<rect x="439.00" y="322.06" width="5.68" height="1.33" fill="#417b9d"/>
<rect x="444.63" y="322.06" width="5.68" height="1.33" fill="#2f5165"/>
<rect x="450.27" y="322.06" width="5.68" height="1.33" fill="#1c2429"/>
<rect x="455.90" y="322.06" width="5.68" height="1.33" fill="#6a6826"/>
<rect x="461.53" y="322.06" width="5.68" height="1.33" fill="#8a8629"/>
<rect x="467.17" y="322.06" width="5.68" height="1.33" fill="#494a24"/>
<rect x="472.80" y="322.06" width="5.68" height="1.33" fill="#3d7392"/>
<rect x="478.43" y="322.06" width="5.68" height="1.33" fill="#3a6a86"/>
<rect x="484.07" y="322.06" width="5.68" height="1.33" fill="#2c4959"/>
<rect x="422.10" y="323.35" width="5.68" height="1.33" fill="#aba62c"/>
<rect x="427.73" y="323.35" width="5.68" height="1.33" fill="#c8c12e"/>
<rect x="433.37" y="323.35" width="5.68" height="1.33" fill="#aba62c"/>
<rect x="439.00" y="323.35" width="5.68" height="1.33" fill="#212e36"/>
<rect x="444.63" y="323.35" width="5.68" height="1.33" fill="#1b2023"/>
<rect x="450.27" y="323.35" width="5.68" height="1.33" fill="#1f2320"/>
<rect x="455.90" y="323.35" width="5.68" height="1.33" fill="#777427"/>
<rect x="461.53" y="323.35" width="5.68" height="1.33" fill="#5d5d25"/>
<rect x="467.17" y="323.35" width="5.68" height="1.33" fill="#a19c2b"/>
<rect x="472.80" y="323.35" width="5.68" height="1.33" fill="#22313a"/>
<rect x="478.43" y="323.35" width="5.68" height="1.33" fill="#305468"/>
<rect x="484.07" y="323.35" width="5.68" height="1.33" fill="#1a1f21"/>
<rect x="422.10" y="324.63" width="5.68" height="1.33" fill="#5c5c25"/>
<rect x="427.73" y="324.63" width="5.68" height="1.33" fill="#e7de31"/>
<rect x="433.37" y="324.63" width="5.68" height="1.33" fill="#a9a32c"/>
<rect x="439.00" y="324.63" width="5.68" height="1.33" fill="#2b2e21"/>
<rect x="444.63" y="324.63" width="5.68" height="1.33" fill="#273e4a"/>
<rect x="450.27" y="324.63" width="5.68" height="1.33" fill="#484923"/>
<rect x="455.90" y="324.63" width="5.68" height="1.33" fill="#848128"/>
<rect x="461.53" y="324.63" width="5.68" height="1.33" fill="#878429"/>
<rect x="467.17" y="324.63" width="5.68" height="1.33" fill="#656426"/>
<rect x="472.80" y="324.63" width="5.68" height="1.33" fill="#22333c"/>
<rect x="478.43" y="324.63" width="5.68" height="1.33" fill="#3a6a86"/>
<rect x="484.07" y="324.63" width="5.68" height="1.33" fill="#3a6b88"/>
<rect x="422.10" y="325.91" width="5.68" height="1.33" fill="#353822"/>
<rect x="427.73" y="325.91" width="5.68" height="1.33" fill="#343622"/>
<rect x="433.37" y="325.91" width="5.68" height="1.33" fill="#404123"/>
<rect x="439.00" y="325.91" width="5.68" height="1.33" fill="#3e7595"/>
<rect x="444.63" y="325.91" width="5.68" height="1.33" fill="#345c73"/>
<rect x="450.27" y="325.91" width="5.68" height="1.33" fill="#2e4f62"/>
<rect x="455.90" y="325.91" width="5.68" height="1.33" fill="#1b2023"/>
<rect x="461.53" y="325.91" width="5.68" height="1.33" fill="#494a24"/>
<rect x="467.17" y="325.91" width="5.68" height="1.33" fill="#262921"/>
<rect x="472.80" y="325.91" width="5.68" height="1.33" fill="#478ab1"/>
<rect x="478.43" y="325.91" width="5.68" height="1.33" fill="#488db5"/>
<rect x="484.07" y="325.91" width="5.68" height="1.33" fill="#37647e"/>
<rect x="422.10" y="327.19" width="5.68" height="1.33" fill="#7d7b28"/>
<rect x="427.73" y="327.19" width="5.68" height="1.33" fill="#908c29"/>
<rect x="433.37" y="327.19" width="5.68" height="1.33" fill="#484923"/>
<rect x="439.00" y="327.19" width="5.68" height="1.33" fill="#2f5164"/>
<rect x="444.63" y="327.19" width="5.68" height="1.33" fill="#37637d"/>
<rect x="450.27" y="327.19" width="5.68" height="1.33" fill="#232720"/>
<rect x="455.90" y="327.19" width="5.68" height="1.33" fill="#434423"/>
<rect x="461.53" y="327.19" width="5.68" height="1.33" fill="#1a1f22"/>
<rect x="467.17" y="327.19" width="5.68" height="1.33" fill="#3f4023"/>
<rect x="472.80" y="327.19" width="5.68" height="1.33" fill="#488db5"/>
<rect x="478.43" y="327.19" width="5.68" height="1.33" fill="#2d4d5f"/>
<rect x="484.07" y="327.19" width="5.68" height="1.33" fill="#4687ad"/>
<rect x="422.10" y="328.47" width="5.68" height="1.33" fill="#817e28"/>
<rect x="427.73" y="328.47" width="5.68" height="1.33" fill="#6b6a26"/>
<rect x="433.37" y="328.47" width="5.68" height="1.33" fill="#6a6926"/>
<rect x="439.00" y="328.47" width="5.68" height="1.33" fill="#396883"/>
<rect x="444.63" y="328.47" width="5.68" height="1.33" fill="#202c33"/>
<rect x="450.27" y="328.47" width="5.68" height="1.33" fill="#1b2124"/>
<rect x="455.90" y="328.47" width="5.68" height="1.33" fill="#535424"/>
<rect x="461.53" y="328.47" width="5.68" height="1.33" fill="#212e36"/>
<rect x="467.17" y="328.47" width="5.68" height="1.33" fill="#5f5f25"/>
<rect x="472.80" y="328.47" width="5.68" height="1.33" fill="#396884"/>
<rect x="478.43" y="328.47" width="5.68" height="1.33" fill="#4a90b9"/>
<rect x="484.07" y="328.47" width="5.68" height="1.33" fill="#386782"/>
<rect x="422.10" y="329.75" width="5.68" height="1.33" fill="#b8b22d"/>
<rect x="427.73" y="329.75" width="5.68" height="1.33" fill="#696826"/>
<rect x="433.37" y="329.75" width="5.68" height="1.33" fill="#b3ad2c"/>
<rect x="439.00" y="329.75" width="5.68" height="1.33" fill="#2d4c5e"/>
<rect x="444.63" y="329.75" width="5.68" height="1.33" fill="#4e4f24"/>
<rect x="450.27" y="329.75" width="5.68" height="1.33" fill="#232720"/>
<rect x="455.90" y="329.75" width="5.68" height="1.33" fill="#7d7a28"/>
<rect x="461.53" y="329.75" width="5.68" height="1.33" fill="#626126"/>
<rect x="467.17" y="329.75" width="5.68" height="1.33" fill="#2a2d21"/>
<rect x="472.80" y="329.75" width="5.68" height="1.33" fill="#273c49"/>
<rect x="478.43" y="329.75" width="5.68" height="1.33" fill="#253a45"/>
<rect x="484.07" y="329.75" width="5.68" height="1.33" fill="#22323b"/>
<rect x="422.10" y="331.04" width="5.68" height="1.33" fill="#8b8729"/>
<rect x="427.73" y="331.04" width="5.68" height="1.33" fill="#636226"/>
<rect x="433.37" y="331.04" width="5.68" height="1.33" fill="#727027"/>
<rect x="439.00" y="331.04" width="5.68" height="1.33" fill="#2e4e61"/>
<rect x="444.63" y="331.04" width="5.68" height="1.33" fill="#23353e"/>
<rect x="450.27" y="331.04" width="5.68" height="1.33" fill="#484923"/>
<rect x="455.90" y="331.04" width="5.68" height="1.33" fill="#7f7d28"/>
<rect x="461.53" y="331.04" width="5.68" height="1.33" fill="#757327"/>
<rect x="467.17" y="331.04" width="5.68" height="1.33" fill="#646326"/>
<rect x="472.80" y="331.04" width="5.68" height="1.33" fill="#2f5064"/>
<rect x="478.43" y="331.04" width="5.68" height="1.33" fill="#28404e"/>
<rect x="484.07" y="331.04" width="5.68" height="1.33" fill="#263a46"/>
<rect x="422.10" y="332.32" width="5.68" height="1.33" fill="#8a8729"/>
<rect x="427.73" y="332.32" width="5.68" height="1.33" fill="#6d6b27"/>
<rect x="433.37" y="332.32" width="5.68" height="1.33" fill="#c3bc2e"/>
<rect x="439.00" y="332.32" width="5.68" height="1.33" fill="#253944"/>
<rect x="444.63" y="332.32" width="5.68" height="1.33" fill="#353722"/>
<rect x="450.27" y="332.32" width="5.68" height="1.33" fill="#1e292f"/>
<rect x="455.90" y="332.32" width="5.68" height="1.33" fill="#6c6a26"/>
<rect x="461.53" y="332.32" width="5.68" height="1.33" fill="#838028"/>
<rect x="467.17" y="332.32" width="5.68" height="1.33" fill="#313421"/>
<rect x="472.80" y="332.32" width="5.68" height="1.33" fill="#32576d"/>
<rect x="478.43" y="332.32" width="5.68" height="1.33" fill="#22313a"/>
<rect x="484.07" y="332.32" width="5.68" height="1.33" fill="#213039"/>
</g>
<line x1="455.9" y1="210.4" x2="455.9" y2="333.6" stroke="#d8d8d8" stroke-width="0.8"/>
<line x1="472.8" y1="210.4" x2="472.8" y2="333.6" stroke="#d8d8d8" stroke-width="0.8"/>
<line x1="422.1" y1="239.7" x2="489.7" y2="239.7" stroke="#d0d0d0" stroke-width="0.8"/>
<line x1="422.1" y1="244.0" x2="489.7" y2="244.0" stroke="#d0d0d0" stroke-width="0.8"/>
<line x1="422.1" y1="269.8" x2="489.7" y2="269.8" stroke="#d0d0d0" stroke-width="0.8"/>
<line x1="422.1" y1="319.5" x2="489.7" y2="319.5" stroke="#d0d0d0" stroke-width="0.8"/>
<rect x="422.1" y="207.5" width="16.949999999999992" height="2.7" fill="#a48a6c"/>
<rect x="439.0" y="207.5" width="16.949999999999992" height="2.7" fill="#dc7a32"/>
<rect x="455.9" y="207.5" width="16.949999999999992" height="2.7" fill="#a9c6de"/>
<rect x="472.8" y="207.5" width="16.949999999999992" height="2.7" fill="#b45a26"/>
<rect x="417.5" y="210.4" width="3.3" height="20.799999999999983" fill="#acc8e2" stroke="#888" stroke-width="0.3"/>
<rect x="417.5" y="231.2" width="3.3" height="8.5" fill="#94c25e" stroke="#888" stroke-width="0.3"/>
<rect x="417.5" y="239.7" width="3.3" height="4.200000000000017" fill="#e04a5a" stroke="#888" stroke-width="0.3"/>
<rect x="417.5" y="243.9" width="3.3" height="25.799999999999983" fill="#f19a2e" stroke="#888" stroke-width="0.3"/>
<rect x="417.5" y="269.9" width="3.3" height="49.5" fill="#7048a6" stroke="#888" stroke-width="0.3"/>
<rect x="417.5" y="319.6" width="3.3" height="14.0" fill="#c86a2a" stroke="#888" stroke-width="0.3"/>
<text x="0" y="0" font-size="8.2" fill="#231f20" stroke="#231f20" stroke-width="0.1" transform="translate(428.6,204.8) rotate(-42)"><tspan font-style="italic">db</tspan>-Veh.</text>
<text x="0" y="0" font-size="8.2" fill="#231f20" stroke="#231f20" stroke-width="0.1" transform="translate(444.0,204.6) rotate(-42)"><tspan font-style="italic">db</tspan>-BSO</text>
<text x="0" y="0" font-size="8.2" fill="#231f20" stroke="#231f20" stroke-width="0.1" transform="translate(460.8,204.4) rotate(-42)"><tspan font-style="italic">Ctrl</tspan>-Veh.</text>
<text x="0" y="0" font-size="8.2" fill="#231f20" stroke="#231f20" stroke-width="0.1" transform="translate(479.8,204.6) rotate(-42)"><tspan font-style="italic">Ctrl</tspan>-BSO</text>
<text x="496.2" y="216.20" font-size="5.5" font-style="italic" fill="#231f20" textLength="13.4" lengthAdjust="spacingAndGlyphs">Prdx6</text>
<text x="496.2" y="221.20" font-size="5.5" font-style="italic" fill="#231f20" textLength="13.8" lengthAdjust="spacingAndGlyphs">Taldo1</text>
<text x="496.2" y="226.20" font-size="5.5" font-style="italic" fill="#231f20" textLength="15.8" lengthAdjust="spacingAndGlyphs">Hmox1</text>
<text x="496.2" y="231.20" font-size="5.5" font-style="italic" fill="#231f20" textLength="13.4" lengthAdjust="spacingAndGlyphs">Srxn1</text>
<text x="496.2" y="236.20" font-size="5.5" font-style="italic" fill="#231f20" textLength="9.4" lengthAdjust="spacingAndGlyphs">Fit2</text>
<text x="496.2" y="241.20" font-size="5.5" font-style="italic" fill="#231f20" textLength="8.6" lengthAdjust="spacingAndGlyphs">Flt1</text>
<text x="496.2" y="246.20" font-size="5.5" font-style="italic" fill="#231f20" textLength="12.4" lengthAdjust="spacingAndGlyphs">Cyb5</text>
<text x="496.2" y="251.20" font-size="5.5" font-style="italic" fill="#231f20" textLength="9.7" lengthAdjust="spacingAndGlyphs">Fth1</text>
<text x="496.2" y="256.20" font-size="5.5" font-style="italic" fill="#231f20" textLength="11.3" lengthAdjust="spacingAndGlyphs">Nqo1</text>
<polyline points="492.4,218.7 492.4,236.7 490.2,237.8 492.4,238.9 492.4,249.2" fill="none" stroke="#999" stroke-width="0.6"/>
<defs><linearGradient id="gF" x1="0" x2="1" y1="0" y2="0"><stop offset="0" stop-color="#8fd0f4"/><stop offset="0.5" stop-color="#111"/><stop offset="1" stop-color="#f4ec40"/></linearGradient></defs>
<rect x="439.3" y="335.0" width="34.6" height="2.4" fill="url(#gF)"/>
<text x="434.6" y="338.2" font-size="4.6" text-anchor="middle" fill="#231f20" stroke="#231f20" stroke-width="0" font-weight="normal" font-style="normal" >-1</text>
<text x="478.6" y="338.2" font-size="4.6" text-anchor="middle" fill="#231f20" stroke="#231f20" stroke-width="0" font-weight="normal" font-style="normal" >1</text>
<text x="456.0" y="346.9" font-size="7.1" fill="#231f20" stroke="#231f20" stroke-width="0.3" text-anchor="middle"  textLength="67.8" lengthAdjust="spacingAndGlyphs">Differential expression (log2)</text>
<rect x="7.2" y="427.10" width="17.10" height="6.73" fill="#d40000"/>
<rect x="24.0" y="427.10" width="17.20" height="6.73" fill="#e08888"/>
<rect x="40.9" y="427.10" width="17.20" height="6.73" fill="#dcdcf8"/>
<rect x="57.8" y="427.10" width="17.00" height="6.73" fill="#e03838"/>
<rect x="7.2" y="433.53" width="17.10" height="6.73" fill="#d40000"/>
<rect x="24.0" y="433.53" width="17.20" height="6.73" fill="#dc6868"/>
<rect x="40.9" y="433.53" width="17.20" height="6.73" fill="#fafaff"/>
<rect x="57.8" y="433.53" width="17.00" height="6.73" fill="#dc5858"/>
<rect x="7.2" y="439.96" width="17.10" height="6.73" fill="#d40000"/>
<rect x="24.0" y="439.96" width="17.20" height="6.73" fill="#dc4040"/>
<rect x="40.9" y="439.96" width="17.20" height="6.73" fill="#ececfc"/>
<rect x="57.8" y="439.96" width="17.00" height="6.73" fill="#e49090"/>
<rect x="7.2" y="446.39" width="17.10" height="6.73" fill="#d40000"/>
<rect x="24.0" y="446.39" width="17.20" height="6.73" fill="#ecb4b4"/>
<rect x="40.9" y="446.39" width="17.20" height="6.73" fill="#e09898"/>
<rect x="57.8" y="446.39" width="17.00" height="6.73" fill="#f4d0d0"/>
<rect x="7.2" y="452.82" width="17.10" height="6.73" fill="#d85050"/>
<rect x="24.0" y="452.82" width="17.20" height="6.73" fill="#d82020"/>
<rect x="40.9" y="452.82" width="17.20" height="6.73" fill="#dc3c3c"/>
<rect x="57.8" y="452.82" width="17.00" height="6.73" fill="#f2cccc"/>
<rect x="7.2" y="459.25" width="17.10" height="6.73" fill="#d83030"/>
<rect x="24.0" y="459.25" width="17.20" height="6.73" fill="#d40000"/>
<rect x="40.9" y="459.25" width="17.20" height="6.73" fill="#fae4e4"/>
<rect x="57.8" y="459.25" width="17.00" height="6.73" fill="#fae4e4"/>
<rect x="7.2" y="465.68" width="17.10" height="6.73" fill="#d40000"/>
<rect x="24.0" y="465.68" width="17.20" height="6.73" fill="#d40000"/>
<rect x="40.9" y="465.68" width="17.20" height="6.73" fill="#e0e0f8"/>
<rect x="57.8" y="465.68" width="17.00" height="6.73" fill="#fcf0f0"/>
<rect x="7.2" y="472.11" width="17.10" height="6.73" fill="#d82828"/>
<rect x="24.0" y="472.11" width="17.20" height="6.73" fill="#d40000"/>
<rect x="40.9" y="472.11" width="17.20" height="6.73" fill="#e8e8fc"/>
<rect x="57.8" y="472.11" width="17.00" height="6.73" fill="#e4e4fa"/>
<rect x="7.2" y="478.54" width="17.10" height="6.73" fill="#d83030"/>
<rect x="24.0" y="478.54" width="17.20" height="6.73" fill="#d40000"/>
<rect x="40.9" y="478.54" width="17.20" height="6.73" fill="#f0c0c0"/>
<rect x="57.8" y="478.54" width="17.00" height="6.73" fill="#e4e4fa"/>
<rect x="7.2" y="484.97" width="17.10" height="6.73" fill="#d83030"/>
<rect x="24.0" y="484.97" width="17.20" height="6.73" fill="#d40000"/>
<rect x="40.9" y="484.97" width="17.20" height="6.73" fill="#fae4e4"/>
<rect x="57.8" y="484.97" width="17.00" height="6.73" fill="#f6dcdc"/>
<rect x="7.2" y="491.40" width="17.10" height="6.73" fill="#dc6060"/>
<rect x="24.0" y="491.40" width="17.20" height="6.73" fill="#d40000"/>
<rect x="40.9" y="491.40" width="17.20" height="6.73" fill="#d0d0f8"/>
<rect x="57.8" y="491.40" width="17.00" height="6.73" fill="#d4d4f8"/>
<rect x="7.2" y="497.83" width="17.10" height="6.73" fill="#ecb0b0"/>
<rect x="24.0" y="497.83" width="17.20" height="6.73" fill="#d40000"/>
<rect x="40.9" y="497.83" width="17.20" height="6.73" fill="#f4d0d0"/>
<rect x="57.8" y="497.83" width="17.00" height="6.73" fill="#e4e4fa"/>
<rect x="7.2" y="504.26" width="17.10" height="6.73" fill="#e08080"/>
<rect x="24.0" y="504.26" width="17.20" height="6.73" fill="#d40000"/>
<rect x="40.9" y="504.26" width="17.20" height="6.73" fill="#eeb0b0"/>
<rect x="57.8" y="504.26" width="17.00" height="6.73" fill="#e8e8fa"/>
<rect x="7.2" y="510.69" width="17.10" height="6.73" fill="#e8a0a0"/>
<rect x="24.0" y="510.69" width="17.20" height="6.73" fill="#d82828"/>
<rect x="40.9" y="510.69" width="17.20" height="6.73" fill="#b0b0f4"/>
<rect x="57.8" y="510.69" width="17.00" height="6.73" fill="#b4b4f4"/>
<rect x="7.2" y="517.12" width="17.10" height="6.73" fill="#d40000"/>
<rect x="24.0" y="517.12" width="17.20" height="6.73" fill="#d40000"/>
<rect x="40.9" y="517.12" width="17.20" height="6.73" fill="#fae0e0"/>
<rect x="57.8" y="517.12" width="17.00" height="6.73" fill="#e89c9c"/>
<rect x="7.2" y="523.55" width="17.10" height="6.73" fill="#d81c1c"/>
<rect x="24.0" y="523.55" width="17.20" height="6.73" fill="#d82020"/>
<rect x="40.9" y="523.55" width="17.20" height="6.73" fill="#d4d4f8"/>
<rect x="57.8" y="523.55" width="17.00" height="6.73" fill="#fcecec"/>
<rect x="7.2" y="529.98" width="17.10" height="6.73" fill="#e8a0a0"/>
<rect x="24.0" y="529.98" width="17.20" height="6.73" fill="#eeeefc"/>
<rect x="40.9" y="529.98" width="17.20" height="6.73" fill="#e07070"/>
<rect x="57.8" y="529.98" width="17.00" height="6.73" fill="#d81c1c"/>
<rect x="7.2" y="536.41" width="17.10" height="6.73" fill="#e49090"/>
<rect x="24.0" y="536.41" width="17.20" height="6.73" fill="#e4e4fa"/>
<rect x="40.9" y="536.41" width="17.20" height="6.73" fill="#e28888"/>
<rect x="57.8" y="536.41" width="17.00" height="6.73" fill="#d81c1c"/>
<rect x="7.2" y="542.84" width="17.10" height="6.73" fill="#e8a0a0"/>
<rect x="24.0" y="542.84" width="17.20" height="6.73" fill="#eeeefc"/>
<rect x="40.9" y="542.84" width="17.20" height="6.73" fill="#d82828"/>
<rect x="57.8" y="542.84" width="17.00" height="6.73" fill="#d81c1c"/>
<rect x="7.2" y="549.27" width="17.10" height="6.73" fill="#e06868"/>
<rect x="24.0" y="549.27" width="17.20" height="6.73" fill="#eaa8a8"/>
<rect x="40.9" y="549.27" width="17.20" height="6.73" fill="#e06868"/>
<rect x="57.8" y="549.27" width="17.00" height="6.73" fill="#d81c1c"/>
<rect x="7.2" y="555.70" width="17.10" height="6.73" fill="#e48888"/>
<rect x="24.0" y="555.70" width="17.20" height="6.73" fill="#f0c0c0"/>
<rect x="40.9" y="555.70" width="17.20" height="6.73" fill="#e89898"/>
<rect x="57.8" y="555.70" width="17.00" height="6.73" fill="#d81c1c"/>
<rect x="7.2" y="562.13" width="17.10" height="6.73" fill="#e4e4fa"/>
<rect x="24.0" y="562.13" width="17.20" height="6.73" fill="#e8e8fa"/>
<rect x="40.9" y="562.13" width="17.20" height="6.73" fill="#d40000"/>
<rect x="57.8" y="562.13" width="17.00" height="6.73" fill="#d81c1c"/>
<rect x="7.2" y="568.56" width="17.10" height="6.73" fill="#d4d4f8"/>
<rect x="24.0" y="568.56" width="17.20" height="6.73" fill="#dcdcf8"/>
<rect x="40.9" y="568.56" width="17.20" height="6.73" fill="#d82020"/>
<rect x="57.8" y="568.56" width="17.00" height="6.73" fill="#eaa8a8"/>
<rect x="7.2" y="574.99" width="17.10" height="6.43" fill="#d40000"/>
<rect x="24.0" y="574.99" width="17.20" height="6.43" fill="#f0f0fc"/>
<rect x="40.9" y="574.99" width="17.20" height="6.43" fill="#d40000"/>
<rect x="57.8" y="574.99" width="17.00" height="6.43" fill="#d40000"/>
<line x1="53" y1="426.8" x2="74.8" y2="426.8" stroke="#777" stroke-width="0.6"/>
<line x1="74.8" y1="426.8" x2="74.8" y2="581.4" stroke="#444" stroke-width="0.6"/>
<line x1="53" y1="581.3" x2="74.8" y2="581.3" stroke="#444" stroke-width="0.6"/>
<text x="78.0" y="432.215" font-size="5.22" text-anchor="start" fill="#231f20" stroke="#231f20" stroke-width="0" font-weight="normal" font-style="normal" >adaptive immune response</text>
<text x="78.0" y="438.645" font-size="5.22" text-anchor="start" fill="#231f20" stroke="#231f20" stroke-width="0" font-weight="normal" font-style="normal" >immune response</text>
<text x="78.0" y="445.075" font-size="5.22" text-anchor="start" fill="#231f20" stroke="#231f20" stroke-width="0" font-weight="normal" font-style="normal" >cytokine activity</text>
<text x="78.0" y="451.505" font-size="5.22" text-anchor="start" fill="#231f20" stroke="#231f20" stroke-width="0" font-weight="normal" font-style="normal" >positive regulation of interleukin-10</text>
<text x="78.0" y="457.935" font-size="5.22" text-anchor="start" fill="#cc3440" stroke="#cc3440" stroke-width="0" font-weight="normal" font-style="normal" >oxidoreductase activity</text>
<text x="78.0" y="464.365" font-size="5.22" text-anchor="start" fill="#231f20" stroke="#231f20" stroke-width="0" font-weight="normal" font-style="normal" >positive regulation of neuron apoptosis</text>
<text x="78.0" y="470.795" font-size="5.22" text-anchor="start" fill="#cc3440" stroke="#cc3440" stroke-width="0" font-weight="normal" font-style="normal" >response to oxidative stress</text>
<text x="78.0" y="477.225" font-size="5.22" text-anchor="start" fill="#231f20" stroke="#231f20" stroke-width="0" font-weight="normal" font-style="normal" >response to cadmium ion</text>
<text x="78.0" y="483.655" font-size="5.22" text-anchor="start" fill="#cc3440" stroke="#cc3440" stroke-width="0" font-weight="normal" font-style="normal" >superoxide metabolic process</text>
<text x="78.0" y="490.085" font-size="5.22" text-anchor="start" fill="#231f20" stroke="#231f20" stroke-width="0" font-weight="normal" font-style="normal" >iron ion homeostasis</text>
<text x="78.0" y="496.515" font-size="5.22" text-anchor="start" fill="#231f20" stroke="#231f20" stroke-width="0" font-weight="normal" font-style="normal" >cofactor catabolic process</text>
<text x="78.0" y="502.945" font-size="5.22" text-anchor="start" fill="#cc3440" stroke="#cc3440" stroke-width="0" font-weight="normal" font-style="normal" >response to reactive oxygen species</text>
<text x="78.0" y="509.375" font-size="5.22" text-anchor="start" fill="#231f20" stroke="#231f20" stroke-width="0" font-weight="normal" font-style="normal" >NADP metabolic process</text>
<text x="78.0" y="515.805" font-size="5.22" text-anchor="start" fill="#231f20" stroke="#231f20" stroke-width="0" font-weight="normal" font-style="normal" >oxidation-reduction process</text>
<text x="78.0" y="522.235" font-size="5.22" text-anchor="start" fill="#cc3440" stroke="#cc3440" stroke-width="0" font-weight="normal" font-style="normal" >antioxidant activity</text>
<text x="78.0" y="528.665" font-size="5.22" text-anchor="start" fill="#231f20" stroke="#231f20" stroke-width="0" font-weight="normal" font-style="normal" >cholesterol metabolic process</text>
<text x="78.0" y="535.095" font-size="5.22" text-anchor="start" fill="#3d3dab" stroke="#3d3dab" stroke-width="0" font-weight="normal" font-style="normal" >extracellular matrix binding</text>
<text x="78.0" y="541.525" font-size="5.22" text-anchor="start" fill="#231f20" stroke="#231f20" stroke-width="0" font-weight="normal" font-style="normal" >positive regulation of exocytosis</text>
<text x="78.0" y="547.955" font-size="5.22" text-anchor="start" fill="#231f20" stroke="#231f20" stroke-width="0" font-weight="normal" font-style="normal" >negative regulation of PS/T kinase activity</text>
<text x="78.0" y="554.385" font-size="5.22" text-anchor="start" fill="#231f20" stroke="#231f20" stroke-width="0" font-weight="normal" font-style="normal" >coagulation</text>
<text x="78.0" y="560.8149999999999" font-size="5.22" text-anchor="start" fill="#231f20" stroke="#231f20" stroke-width="0" font-weight="normal" font-style="normal" >regulation of exocytosis</text>
<text x="78.0" y="567.245" font-size="5.22" text-anchor="start" fill="#3d3dab" stroke="#3d3dab" stroke-width="0" font-weight="normal" font-style="normal" >positive regulation of inflammatory response</text>
<text x="78.0" y="573.675" font-size="5.22" text-anchor="start" fill="#231f20" stroke="#231f20" stroke-width="0" font-weight="normal" font-style="normal" >GTPase activity</text>
<text x="78.0" y="580.105" font-size="5.22" text-anchor="start" fill="#3d3dab" stroke="#3d3dab" stroke-width="0" font-weight="normal" font-style="normal" >regulation of platelet activation</text>
<text x="0" y="0" font-size="7.7" fill="#231f20" stroke="#231f20" stroke-width="0.15" transform="translate(14.4,421.3) rotate(-43)"><tspan font-style="italic">Ctrl</tspan>-BSO vs <tspan font-style="italic">Ctrl</tspan>-Veh.</text>
<text x="0" y="0" font-size="7.7" fill="#231f20" stroke="#231f20" stroke-width="0.15" transform="translate(32.2,421.3) rotate(-43)"><tspan font-style="italic">db</tspan>-BSO vs <tspan font-style="italic">dp</tspan>-Veh.</text>
<text x="0" y="0" font-size="7.7" fill="#231f20" stroke="#231f20" stroke-width="0.15" transform="translate(50.4,421.3) rotate(-43)"><tspan font-style="italic">db</tspan>-BSO vs <tspan font-style="italic">Ctrl</tspan>-BSO</text>
<text x="0" y="0" font-size="7.7" fill="#231f20" stroke="#231f20" stroke-width="0.15" transform="translate(67.4,421.3) rotate(-43)"><tspan font-style="italic">db</tspan>-Veh. vs <tspan font-style="italic">Ctrl</tspan>-Veh.</text>
<defs><linearGradient id="gG" x1="0" x2="1" y1="0" y2="0"><stop offset="0" stop-color="#0000c8"/><stop offset="0.5" stop-color="#ffffff"/><stop offset="1" stop-color="#c80000"/></linearGradient></defs>
<rect x="25" y="583.7" width="38" height="3.3" fill="url(#gG)" stroke="#555" stroke-width="0.3"/>
<text x="20.5" y="587.6" font-size="5.5" text-anchor="middle" fill="#231f20" stroke="#231f20" stroke-width="0" font-weight="normal" font-style="normal" >-6</text>
<text x="67.3" y="587.6" font-size="5.5" text-anchor="middle" fill="#231f20" stroke="#231f20" stroke-width="0" font-weight="normal" font-style="normal" >6</text>
<text x="44.8" y="596.7" font-size="7.1" fill="#231f20" stroke="#231f20" stroke-width="0.3" text-anchor="middle"  textLength="40" lengthAdjust="spacingAndGlyphs">GO-elite Z scores</text>
<text x="309.1" y="389.5" font-size="7.6" text-anchor="start" fill="#231f20" stroke="#231f20" stroke-width="0.22" font-weight="normal" font-style="normal" >HSC-SLAM</text>
<rect x="280.3" y="396.6" width="4.4" height="4.4" fill="#a8002c"/>
<text x="288" y="400.9" font-size="7.5" text-anchor="start" fill="#231f20" stroke="#231f20" stroke-width="0.22" font-weight="normal" font-style="normal" ><tspan font-style="italic">Ctrl</tspan> + Veh</text>
<rect x="280.3" y="408.2" width="4.4" height="4.4" fill="#284890"/>
<text x="288" y="412.6" font-size="7.5" text-anchor="start" fill="#231f20" stroke="#231f20" stroke-width="0.22" font-weight="normal" font-style="normal" ><tspan font-style="italic">db</tspan> + Veh</text>
<rect x="331.0" y="396.6" width="4.6" height="4.4" fill="url(#hrl)"/>
<text x="338.7" y="400.9" font-size="7.9" text-anchor="start" fill="#231f20" stroke="#231f20" stroke-width="0.22" font-weight="normal" font-style="normal" ><tspan font-style="italic">Ctrl</tspan> + BSO</text>
<rect x="331.0" y="408.2" width="4.6" height="4.4" fill="url(#hbl)"/>
<text x="338.7" y="412.6" font-size="7.9" text-anchor="start" fill="#231f20" stroke="#231f20" stroke-width="0.22" font-weight="normal" font-style="normal" ><tspan font-style="italic">db</tspan> + BSO</text>
<polyline points="251.8,433.8 251.8,423.8 355,423.8 355,440" fill="none" stroke="#231f20" stroke-width="1"/>
<line x1="236.3" y1="433.8" x2="267" y2="433.8" stroke="#231f20" stroke-width="1"/>
<line x1="290" y1="440" x2="420" y2="440" stroke="#231f20" stroke-width="1"/>
<text x="252.5" y="454.6" font-size="7.5" text-anchor="middle" fill="#231f20" stroke="#231f20" stroke-width="0.22" font-weight="normal" font-style="normal" ><tspan font-style="italic">Ctrl</tspan></text>
<line x1="232" y1="459.3" x2="272.5" y2="459.3" stroke="#231f20" stroke-width="1"/>
<text x="302.9" y="454.6" font-size="7.5" text-anchor="middle" fill="#231f20" stroke="#231f20" stroke-width="0.22" font-weight="normal" font-style="normal" ><tspan font-style="italic">Ctrl</tspan>+BSO</text>
<line x1="282.5" y1="459.3" x2="323.2" y2="459.3" stroke="#231f20" stroke-width="1"/>
<text x="353.8" y="454.6" font-size="7.5" text-anchor="middle" fill="#231f20" stroke="#231f20" stroke-width="0.22" font-weight="normal" font-style="normal" ><tspan font-style="italic">db</tspan></text>
<line x1="334.5" y1="459.3" x2="372.5" y2="459.3" stroke="#231f20" stroke-width="1"/>
<text x="403.6" y="454.6" font-size="7.5" text-anchor="middle" fill="#231f20" stroke="#231f20" stroke-width="0.22" font-weight="normal" font-style="normal" ><tspan font-style="italic">db</tspan>+BSO</text>
<line x1="384.5" y1="459.3" x2="423" y2="459.3" stroke="#231f20" stroke-width="1"/>
<line x1="230.5" y1="442.2" x2="230.5" y2="537.0" stroke="#231f20" stroke-width="1.35"/>
<line x1="227.9" y1="536.5" x2="230.5" y2="536.5" stroke="#231f20" stroke-width="1.2"/>
<text x="224.3" y="539.4" font-size="8" text-anchor="end" fill="#231f20" stroke="#231f20" stroke-width="0.22" font-weight="normal" font-style="normal" >0</text>
<line x1="227.9" y1="518.04" x2="230.5" y2="518.04" stroke="#231f20" stroke-width="1.2"/>
<text x="224.3" y="520.9399999999999" font-size="8" text-anchor="end" fill="#231f20" stroke="#231f20" stroke-width="0.22" font-weight="normal" font-style="normal" >20</text>
<line x1="227.9" y1="499.58" x2="230.5" y2="499.58" stroke="#231f20" stroke-width="1.2"/>
<text x="224.3" y="502.47999999999996" font-size="8" text-anchor="end" fill="#231f20" stroke="#231f20" stroke-width="0.22" font-weight="normal" font-style="normal" >40</text>
<line x1="227.9" y1="481.12" x2="230.5" y2="481.12" stroke="#231f20" stroke-width="1.2"/>
<text x="224.3" y="484.02" font-size="8" text-anchor="end" fill="#231f20" stroke="#231f20" stroke-width="0.22" font-weight="normal" font-style="normal" >60</text>
<line x1="227.9" y1="462.65999999999997" x2="230.5" y2="462.65999999999997" stroke="#231f20" stroke-width="1.2"/>
<text x="224.3" y="465.55999999999995" font-size="8" text-anchor="end" fill="#231f20" stroke="#231f20" stroke-width="0.22" font-weight="normal" font-style="normal" >80</text>
<line x1="227.9" y1="444.2" x2="230.5" y2="444.2" stroke="#231f20" stroke-width="1.2"/>
<text x="224.3" y="447.09999999999997" font-size="8" text-anchor="end" fill="#231f20" stroke="#231f20" stroke-width="0.22" font-weight="normal" font-style="normal" >100</text>
<line x1="230.5" y1="536.5" x2="427.5" y2="536.5" stroke="#231f20" stroke-width="1.35"/>
<rect x="235.5" y="466.2" width="8.0" height="70.30000000000001" fill="#a8002c"/>
<circle cx="237.0" cy="465.6" r="1.7" fill="#111" stroke="none" stroke-width="0"/>
<circle cx="242.5" cy="465.6" r="1.7" fill="#111" stroke="none" stroke-width="0"/>
<circle cx="239.5" cy="470.0" r="1.7" fill="#111" stroke="none" stroke-width="0"/>
<rect x="249.3" y="518.8" width="8.0" height="17.700000000000045" fill="#a8002c"/>
<circle cx="250.8" cy="515.8" r="1.7" fill="#111" stroke="none" stroke-width="0"/>
<circle cx="255.5" cy="517.0" r="1.7" fill="#111" stroke="none" stroke-width="0"/>
<circle cx="253.0" cy="520.8" r="1.7" fill="#111" stroke="none" stroke-width="0"/>
<rect x="263.0" y="533.3" width="8.0" height="3.2000000000000455" fill="#a8002c"/>
<line x1="267.0" y1="526.8" x2="267.0" y2="533.3" stroke="#231f20" stroke-width="1"/>
<line x1="265.4" y1="528.0999999999999" x2="268.6" y2="528.0999999999999" stroke="#231f20" stroke-width="1"/>
<circle cx="266.8" cy="526.8" r="1.7" fill="#111" stroke="none" stroke-width="0"/>
<circle cx="264.5" cy="536.2" r="1.7" fill="#111" stroke="none" stroke-width="0"/>
<circle cx="269.5" cy="535.0" r="1.7" fill="#111" stroke="none" stroke-width="0"/>
<rect x="285.5" y="503.8" width="8.0" height="32.69999999999999" fill="url(#hr)"/>
<line x1="289.5" y1="481.2" x2="289.5" y2="503.8" stroke="#231f20" stroke-width="1"/>
<line x1="287.9" y1="482.5" x2="291.1" y2="482.5" stroke="#231f20" stroke-width="1"/>
<line x1="289.5" y1="503.8" x2="289.5" y2="520.8" stroke="#231f20" stroke-width="1"/>
<line x1="287.9" y1="520.8" x2="291.1" y2="520.8" stroke="#231f20" stroke-width="1"/>
<circle cx="289.5" cy="481.2" r="1.7" fill="#111" stroke="none" stroke-width="0"/>
<circle cx="289.5" cy="511.8" r="1.7" fill="#111" stroke="none" stroke-width="0"/>
<circle cx="289.5" cy="515.8" r="1.7" fill="#111" stroke="none" stroke-width="0"/>
<rect x="299.3" y="504.3" width="8.0" height="32.19999999999999" fill="url(#hr)"/>
<line x1="303.3" y1="490.0" x2="303.3" y2="504.3" stroke="#231f20" stroke-width="1"/>
<line x1="301.7" y1="491.3" x2="304.90000000000003" y2="491.3" stroke="#231f20" stroke-width="1"/>
<line x1="303.3" y1="504.3" x2="303.3" y2="515.0" stroke="#231f20" stroke-width="1"/>
<line x1="301.7" y1="515.0" x2="304.90000000000003" y2="515.0" stroke="#231f20" stroke-width="1"/>
<circle cx="303.3" cy="490.0" r="1.7" fill="#111" stroke="none" stroke-width="0"/>
<circle cx="303.3" cy="506.3" r="1.7" fill="#111" stroke="none" stroke-width="0"/>
<circle cx="303.3" cy="512.5" r="1.7" fill="#111" stroke="none" stroke-width="0"/>
<rect x="313.0" y="513.0" width="8.0" height="23.5" fill="url(#hr)"/>
<line x1="317.0" y1="496.3" x2="317.0" y2="513.0" stroke="#231f20" stroke-width="1"/>
<line x1="315.4" y1="497.6" x2="318.6" y2="497.6" stroke="#231f20" stroke-width="1"/>
<line x1="317.0" y1="513.0" x2="317.0" y2="526.6" stroke="#231f20" stroke-width="1"/>
<line x1="315.4" y1="526.6" x2="318.6" y2="526.6" stroke="#231f20" stroke-width="1"/>
<circle cx="316.8" cy="496.3" r="1.7" fill="#111" stroke="none" stroke-width="0"/>
<circle cx="316.8" cy="517.0" r="1.7" fill="#111" stroke="none" stroke-width="0"/>
<circle cx="316.8" cy="523.3" r="1.7" fill="#111" stroke="none" stroke-width="0"/>
<rect x="336.3" y="504.3" width="8.0" height="32.19999999999999" fill="#284890"/>
<line x1="340.3" y1="481.3" x2="340.3" y2="504.3" stroke="#231f20" stroke-width="1"/>
<line x1="338.7" y1="482.6" x2="341.90000000000003" y2="482.6" stroke="#231f20" stroke-width="1"/>
<line x1="340.3" y1="504.3" x2="340.3" y2="521.3" stroke="#231f20" stroke-width="1"/>
<line x1="338.7" y1="521.3" x2="341.90000000000003" y2="521.3" stroke="#231f20" stroke-width="1"/>
<circle cx="340.0" cy="481.3" r="1.6" fill="none" stroke="#111" stroke-width="1.1"/>
<circle cx="340.0" cy="511.3" r="1.6" fill="none" stroke="#111" stroke-width="1.1"/>
<circle cx="340.0" cy="518.8" r="1.6" fill="none" stroke="#111" stroke-width="1.1"/>
<rect x="350.0" y="507.5" width="8.0" height="29.0" fill="#284890"/>
<line x1="354.0" y1="498.8" x2="354.0" y2="507.5" stroke="#231f20" stroke-width="1"/>
<line x1="352.4" y1="500.1" x2="355.6" y2="500.1" stroke="#231f20" stroke-width="1"/>
<line x1="354.0" y1="507.5" x2="354.0" y2="515.5" stroke="#231f20" stroke-width="1"/>
<line x1="352.4" y1="515.5" x2="355.6" y2="515.5" stroke="#231f20" stroke-width="1"/>
<circle cx="353.3" cy="498.8" r="1.6" fill="none" stroke="#111" stroke-width="1.1"/>
<circle cx="353.3" cy="505.8" r="1.6" fill="none" stroke="#111" stroke-width="1.1"/>
<circle cx="353.3" cy="515.8" r="1.6" fill="none" stroke="#111" stroke-width="1.1"/>
<rect x="363.8" y="508.3" width="8.0" height="28.19999999999999" fill="#284890"/>
<line x1="367.8" y1="493.3" x2="367.8" y2="508.3" stroke="#231f20" stroke-width="1"/>
<line x1="366.2" y1="494.6" x2="369.40000000000003" y2="494.6" stroke="#231f20" stroke-width="1"/>
<line x1="367.8" y1="508.3" x2="367.8" y2="520.8" stroke="#231f20" stroke-width="1"/>
<line x1="366.2" y1="520.8" x2="369.40000000000003" y2="520.8" stroke="#231f20" stroke-width="1"/>
<circle cx="367.5" cy="493.3" r="1.6" fill="none" stroke="#111" stroke-width="1.1"/>
<circle cx="367.5" cy="509.5" r="1.6" fill="none" stroke="#111" stroke-width="1.1"/>
<circle cx="367.5" cy="520.8" r="1.6" fill="none" stroke="#111" stroke-width="1.1"/>
<rect x="386.3" y="520.5" width="8.0" height="16.0" fill="url(#hb)"/>
<line x1="390.3" y1="513.5" x2="390.3" y2="520.5" stroke="#231f20" stroke-width="1"/>
<line x1="388.7" y1="514.8" x2="391.90000000000003" y2="514.8" stroke="#231f20" stroke-width="1"/>
<line x1="390.3" y1="520.5" x2="390.3" y2="527.0" stroke="#231f20" stroke-width="1"/>
<line x1="388.7" y1="527.0" x2="391.90000000000003" y2="527.0" stroke="#231f20" stroke-width="1"/>
<circle cx="387.5" cy="515.0" r="1.6" fill="none" stroke="#111" stroke-width="1.1"/>
<circle cx="392.5" cy="518.0" r="1.6" fill="none" stroke="#111" stroke-width="1.1"/>
<circle cx="390.8" cy="525.0" r="1.6" fill="none" stroke="#111" stroke-width="1.1"/>
<rect x="400.0" y="510.0" width="8.0" height="26.5" fill="url(#hb)"/>
<circle cx="401.3" cy="506.1" r="1.6" fill="none" stroke="#111" stroke-width="1.1"/>
<circle cx="406.5" cy="507.4" r="1.6" fill="none" stroke="#111" stroke-width="1.1"/>
<circle cx="401.6" cy="511.0" r="1.6" fill="none" stroke="#111" stroke-width="1.1"/>
<rect x="413.8" y="491.3" width="8.0" height="45.19999999999999" fill="url(#hb)"/>
<line x1="417.8" y1="484.5" x2="417.8" y2="491.3" stroke="#231f20" stroke-width="1"/>
<line x1="416.2" y1="485.8" x2="419.40000000000003" y2="485.8" stroke="#231f20" stroke-width="1"/>
<circle cx="418.0" cy="484.5" r="1.6" fill="none" stroke="#111" stroke-width="1.1"/>
<circle cx="415.0" cy="492.5" r="1.6" fill="none" stroke="#111" stroke-width="1.1"/>
<circle cx="420.8" cy="491.3" r="1.6" fill="none" stroke="#111" stroke-width="1.1"/>
<line x1="236.2" y1="465.4" x2="242.8" y2="465.4" stroke="#111" stroke-width="1.1"/>
<line x1="250.6" y1="516.7" x2="256.0" y2="516.7" stroke="#111" stroke-width="1.1"/>
<line x1="253.3" y1="516.7" x2="253.3" y2="519.0" stroke="#111" stroke-width="1.0"/>
<text x="239.5" y="547.4" font-size="7.6" text-anchor="middle" fill="#231f20" stroke="#231f20" stroke-width="0.22" font-weight="normal" font-style="normal" >0-2</text>
<text x="253.1" y="547.4" font-size="7.6" text-anchor="middle" fill="#231f20" stroke="#231f20" stroke-width="0.22" font-weight="normal" font-style="normal" >3-6</text>
<text x="266.8" y="547.4" font-size="7.6" text-anchor="middle" fill="#231f20" stroke="#231f20" stroke-width="0.22" font-weight="normal" font-style="normal" >&gt;6</text>
<text x="289.5" y="547.4" font-size="7.6" text-anchor="middle" fill="#231f20" stroke="#231f20" stroke-width="0.22" font-weight="normal" font-style="normal" >0-2</text>
<text x="303.3" y="547.4" font-size="7.6" text-anchor="middle" fill="#231f20" stroke="#231f20" stroke-width="0.22" font-weight="normal" font-style="normal" >3-6</text>
<text x="316.8" y="547.4" font-size="7.6" text-anchor="middle" fill="#231f20" stroke="#231f20" stroke-width="0.22" font-weight="normal" font-style="normal" >&gt;6</text>
<text x="340.3" y="547.4" font-size="7.6" text-anchor="middle" fill="#231f20" stroke="#231f20" stroke-width="0.22" font-weight="normal" font-style="normal" >0-2</text>
<text x="353.8" y="547.4" font-size="7.6" text-anchor="middle" fill="#231f20" stroke="#231f20" stroke-width="0.22" font-weight="normal" font-style="normal" >3-6</text>
<text x="367.6" y="547.4" font-size="7.6" text-anchor="middle" fill="#231f20" stroke="#231f20" stroke-width="0.22" font-weight="normal" font-style="normal" >&gt;6</text>
<text x="390.0" y="547.4" font-size="7.6" text-anchor="middle" fill="#231f20" stroke="#231f20" stroke-width="0.22" font-weight="normal" font-style="normal" >0-2</text>
<text x="404.0" y="547.4" font-size="7.6" text-anchor="middle" fill="#231f20" stroke="#231f20" stroke-width="0.22" font-weight="normal" font-style="normal" >3-6</text>
<text x="417.6" y="547.4" font-size="7.6" text-anchor="middle" fill="#231f20" stroke="#231f20" stroke-width="0.22" font-weight="normal" font-style="normal" >&gt;6</text>
<text x="289.7" y="475.0" font-size="7" text-anchor="middle" fill="#231f20" stroke="#231f20" stroke-width="0.22" font-weight="normal" font-style="normal" >**</text>
<text x="340.0" y="475.0" font-size="7" text-anchor="middle" fill="#231f20" stroke="#231f20" stroke-width="0.22" font-weight="normal" font-style="normal" >**</text>
<text x="366.5" y="474.8" font-size="6.8" text-anchor="middle" fill="#231f20" stroke="#231f20" stroke-width="0" font-weight="bold" font-style="italic" >#</text>
<text x="417.8" y="474.8" font-size="6.8" text-anchor="middle" fill="#231f20" stroke="#231f20" stroke-width="0" font-weight="bold" font-style="italic" >###</text>
<text x="390.0" y="504.2" font-size="7" text-anchor="middle" fill="#231f20" stroke="#231f20" stroke-width="0.22" font-weight="normal" font-style="normal" >****</text>
<text x="0" y="0" font-size="9.6" fill="#231f20" stroke="#231f20" stroke-width="0.3" text-anchor="middle" transform="translate(204.0,489.5) rotate(-90)" textLength="27" lengthAdjust="spacingAndGlyphs">% of cell</text>
<text x="329.0" y="561.1" font-size="8.8" fill="#231f20" stroke="#231f20" stroke-width="0.3" text-anchor="middle"  textLength="90.4" lengthAdjust="spacingAndGlyphs">Number of &#947;H2Ax foci per cell</text>
<rect x="0.5" y="0.5" width="519" height="605" fill="none" stroke="#000" stroke-width="1.2"/>
</svg></body></html>
